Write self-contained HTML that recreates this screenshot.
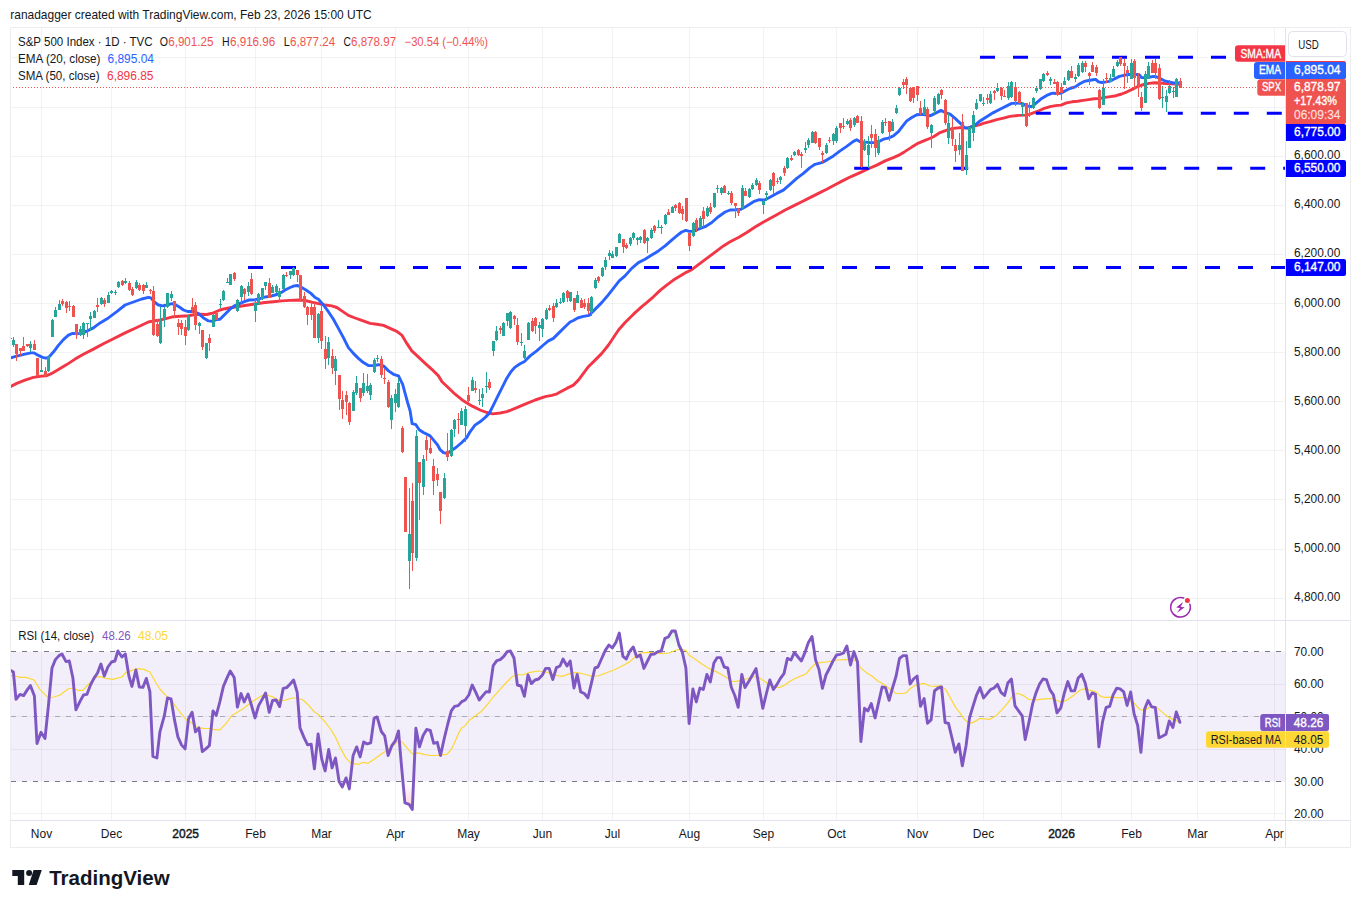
<!DOCTYPE html>
<html lang="en"><head><meta charset="utf-8"><title>S&amp;P 500 Index chart</title>
<style>html,body{margin:0;padding:0;background:#fff;}body{width:1361px;height:908px;overflow:hidden;font-family:"Liberation Sans",sans-serif;}svg{display:block;position:absolute;left:0;top:0;}text{font-family:"Liberation Sans",sans-serif;}</style></head><body>
<svg width="1361" height="908" viewBox="0 0 1361 908">
<rect x="0" y="0" width="1361" height="908" fill="#ffffff"/>
<rect x="11" y="651.6" width="1274.5" height="129.9" fill="#f2eefa"/>
<g stroke="rgba(42,46,57,0.06)" stroke-width="1" shape-rendering="crispEdges">
<line x1="41.5" y1="28" x2="41.5" y2="820"/>
<line x1="111.5" y1="28" x2="111.5" y2="820"/>
<line x1="185.5" y1="28" x2="185.5" y2="820"/>
<line x1="255.5" y1="28" x2="255.5" y2="820"/>
<line x1="321.5" y1="28" x2="321.5" y2="820"/>
<line x1="395.5" y1="28" x2="395.5" y2="820"/>
<line x1="468.5" y1="28" x2="468.5" y2="820"/>
<line x1="542.5" y1="28" x2="542.5" y2="820"/>
<line x1="612.5" y1="28" x2="612.5" y2="820"/>
<line x1="689.5" y1="28" x2="689.5" y2="820"/>
<line x1="763.5" y1="28" x2="763.5" y2="820"/>
<line x1="836.5" y1="28" x2="836.5" y2="820"/>
<line x1="917.5" y1="28" x2="917.5" y2="820"/>
<line x1="983.5" y1="28" x2="983.5" y2="820"/>
<line x1="1061.5" y1="28" x2="1061.5" y2="820"/>
<line x1="1131.5" y1="28" x2="1131.5" y2="820"/>
<line x1="1197.5" y1="28" x2="1197.5" y2="820"/>
<line x1="1274.5" y1="28" x2="1274.5" y2="820"/>
<line x1="11" y1="598.5" x2="1285" y2="598.5"/>
<line x1="11" y1="549.5" x2="1285" y2="549.5"/>
<line x1="11" y1="499.5" x2="1285" y2="499.5"/>
<line x1="11" y1="450.5" x2="1285" y2="450.5"/>
<line x1="11" y1="401.5" x2="1285" y2="401.5"/>
<line x1="11" y1="352.5" x2="1285" y2="352.5"/>
<line x1="11" y1="303.5" x2="1285" y2="303.5"/>
<line x1="11" y1="254.5" x2="1285" y2="254.5"/>
<line x1="11" y1="205.5" x2="1285" y2="205.5"/>
<line x1="11" y1="156.5" x2="1285" y2="156.5"/>
<line x1="11" y1="107.5" x2="1285" y2="107.5"/>
<line x1="11" y1="57.5" x2="1285" y2="57.5"/>
<line x1="11" y1="684.5" x2="1285" y2="684.5"/>
<line x1="11" y1="716.5" x2="1285" y2="716.5"/>
<line x1="11" y1="749.5" x2="1285" y2="749.5"/>
<line x1="11" y1="813.5" x2="1285" y2="813.5"/>
</g>
<defs><clipPath id="cm"><rect x="11" y="28" width="1274.5" height="592"/></clipPath><clipPath id="cr"><rect x="11" y="621" width="1274.5" height="199"/></clipPath></defs>
<g stroke="#787b86" stroke-width="1" stroke-dasharray="5 6" shape-rendering="crispEdges">
<line x1="11" y1="651.5" x2="1281" y2="651.5"/>
<line x1="11" y1="716.5" x2="1281" y2="716.5" stroke-opacity="0.55"/>
<line x1="11" y1="781.5" x2="1281" y2="781.5"/>
</g>
<g clip-path="url(#cm)">
<path d="M10.3,386.8 L16.7,383.4 L25.0,380.1 L33.4,377.4 L41.7,376.1 L46.7,375.8 L51.7,373.4 L58.4,369.6 L66.7,364.6 L75.1,359.1 L83.4,354.2 L93.4,349.1 L103.4,343.7 L113.4,338.7 L125.1,332.9 L136.8,327.5 L148.4,322.0 L155.1,320.7 L160.1,320.0 L166.8,318.4 L173.5,316.7 L180.1,316.2 L188.5,315.7 L195.1,314.5 L200.1,314.2 L206.8,314.5 L213.5,312.9 L220.0,310.0 L225.0,308.7 L231.7,307.5 L240.0,306.2 L248.4,305.0 L256.7,303.7 L265.0,302.5 L273.4,301.7 L281.7,300.9 L290.1,300.4 L298.4,300.0 L305.1,300.5 L311.7,302.2 L318.4,303.7 L325.1,305.0 L331.8,305.9 L336.8,307.5 L341.8,310.9 L348.4,315.4 L355.1,318.0 L361.8,320.4 L370.1,323.4 L376.8,324.2 L383.5,325.4 L390.1,328.4 L396.8,331.4 L401.8,335.1 L406.8,343.4 L411.8,350.9 L418.5,357.1 L425.2,363.4 L431.8,369.3 L438.5,375.9 L442.0,381.8 L446.8,386.3 L455.1,394.2 L463.4,400.8 L471.8,405.9 L480.1,410.0 L486.8,412.5 L492.6,413.9 L500.1,413.0 L506.8,411.7 L515.1,408.4 L525.1,404.2 L535.2,400.0 L545.2,396.7 L551.8,395.3 L557.0,393.8 L560.1,392.1 L566.8,388.4 L573.4,385.1 L578.4,380.1 L583.4,373.4 L588.4,366.7 L595.1,360.1 L601.8,353.4 L608.5,345.0 L613.5,337.5 L618.5,330.0 L625.1,322.5 L633.5,314.2 L641.8,306.7 L646.7,302.6 L653.4,296.8 L660.1,290.4 L666.7,285.1 L673.4,280.1 L680.1,275.9 L686.7,272.1 L691.7,269.7 L696.8,265.9 L703.4,260.9 L710.1,255.9 L716.8,250.9 L723.4,245.9 L730.1,241.7 L738.4,237.5 L746.8,232.5 L755.1,227.0 L761.8,223.0 L768.5,219.2 L776.8,214.7 L785.2,210.0 L793.5,205.9 L801.8,201.7 L810.0,197.6 L818.4,193.4 L826.7,189.3 L835.1,184.8 L843.4,180.4 L851.7,176.3 L860.1,172.6 L868.4,168.8 L876.8,165.1 L885.1,160.9 L893.4,157.6 L898.4,155.4 L905.1,151.4 L911.8,147.1 L918.4,143.1 L926.8,139.7 L933.5,136.7 L940.1,132.6 L946.8,130.1 L953.5,128.4 L960.1,127.6 L966.8,128.1 L980.0,124.6 L983.3,123.4 L990.0,121.7 L996.7,119.7 L1003.4,118.1 L1010.0,116.4 L1018.4,115.4 L1025.0,115.1 L1030.0,114.2 L1036.7,111.7 L1043.4,108.7 L1050.1,106.7 L1055.5,105.6 L1061.0,105.1 L1066.5,102.9 L1072.0,101.8 L1077.6,101.2 L1083.1,100.4 L1088.6,99.6 L1094.1,98.8 L1099.6,98.5 L1105.1,97.4 L1110.6,96.6 L1116.1,95.7 L1121.6,94.0 L1127.1,91.8 L1132.7,89.1 L1138.2,86.3 L1143.7,84.5 L1149.2,83.4 L1154.7,82.8 L1160.2,83.0 L1165.7,83.6 L1171.2,83.8 L1176.7,84.1 L1180.5,84.3" fill="none" stroke="#f23645" stroke-width="2.9" stroke-linejoin="round" stroke-linecap="round" />
<path d="M10.3,357.9 L16.7,356.2 L25.0,354.2 L30.9,352.9 L34.2,352.9 L38.4,355.4 L42.5,357.4 L45.9,358.2 L49.2,356.7 L53.4,352.1 L58.4,345.4 L63.4,339.6 L68.4,335.1 L72.6,333.4 L76.7,333.7 L81.7,333.4 L86.7,331.2 L93.4,327.9 L100.1,322.9 L108.4,317.9 L116.8,311.7 L125.1,305.0 L133.4,302.0 L141.8,299.0 L148.4,297.4 L150.9,297.9 L154.3,302.0 L158.4,305.0 L162.6,305.9 L166.8,305.0 L171.8,303.7 L175.1,304.5 L179.3,307.0 L183.5,310.0 L187.6,311.5 L193.5,311.5 L198.5,313.7 L203.5,317.9 L208.5,320.9 L212.7,321.2 L216.8,319.5 L220.0,319.2 L225.0,314.2 L230.0,309.2 L235.0,305.5 L240.0,303.4 L245.0,301.4 L249.2,300.0 L255.0,299.7 L260.0,298.7 L265.0,297.0 L270.0,296.4 L275.0,295.0 L280.0,293.4 L285.1,290.0 L290.1,287.5 L294.2,285.9 L297.6,285.5 L301.7,287.5 L305.9,290.0 L310.9,293.4 L315.1,297.5 L318.4,299.2 L323.4,305.0 L328.4,311.7 L333.4,319.2 L338.4,328.4 L343.4,337.6 L348.4,347.6 L353.4,353.4 L358.4,358.4 L363.4,362.6 L368.4,365.6 L373.4,365.6 L378.5,364.7 L383.5,365.9 L388.5,370.9 L393.5,374.3 L398.5,375.9 L401.8,382.6 L402.6,384.2 L405.1,393.3 L407.6,402.5 L410.1,410.9 L412.1,423.7 L415.9,424.7 L419.2,429.7 L423.4,432.5 L430.1,435.9 L434.2,440.9 L437.6,445.0 L440.1,449.7 L443.4,452.6 L446.8,453.4 L450.9,450.9 L455.9,447.5 L461.8,442.5 L466.8,437.5 L470.0,431.8 L475.0,425.1 L480.0,421.8 L485.0,417.6 L489.2,413.4 L493.4,405.1 L496.7,398.4 L501.7,388.4 L506.7,378.4 L510.9,371.7 L515.1,367.1 L520.1,363.7 L524.2,361.7 L530.1,355.9 L536.7,350.9 L543.4,345.0 L548.4,340.9 L553.4,338.4 L558.4,333.4 L565.1,326.7 L570.1,322.0 L573.4,320.5 L577.6,318.0 L583.4,316.4 L589.3,315.4 L591.7,312.6 L596.7,307.6 L601.7,302.6 L606.7,296.8 L613.4,288.4 L619.2,280.9 L625.0,275.9 L631.7,268.4 L638.4,262.6 L645.0,259.2 L651.7,255.1 L658.4,250.9 L665.1,245.9 L671.7,240.1 L676.7,235.9 L681.7,232.0 L685.9,230.4 L689.2,231.4 L693.4,231.4 L698.4,229.2 L705.1,226.7 L711.8,222.5 L718.4,216.7 L725.1,212.0 L730.1,210.0 L735.9,209.7 L741.0,209.2 L746.8,205.9 L753.5,201.7 L759.3,199.7 L764.3,200.0 L768.5,198.0 L776.7,193.4 L783.4,190.1 L790.0,184.3 L796.7,178.4 L803.4,173.4 L810.0,167.6 L815.0,164.3 L821.7,162.6 L826.7,160.1 L833.4,155.9 L840.1,150.9 L846.7,146.4 L853.4,141.4 L856.7,139.7 L860.1,141.7 L865.1,142.1 L870.1,142.6 L876.8,142.6 L883.4,139.2 L888.4,138.1 L893.4,135.9 L898.4,131.7 L903.4,125.1 L906.8,120.9 L911.8,117.5 L916.8,114.7 L921.8,114.2 L926.8,115.0 L930.1,115.9 L935.1,113.4 L941.0,110.4 L945.1,112.5 L950.1,114.2 L955.1,118.4 L960.1,123.1 L964.3,127.6 L968.5,128.1 L975.0,125.1 L980.0,120.9 L986.7,116.7 L993.4,112.6 L1000.0,109.2 L1006.7,105.9 L1011.7,103.4 L1016.7,103.1 L1021.7,103.4 L1026.7,105.9 L1031.7,106.7 L1036.7,102.6 L1041.7,98.4 L1046.7,95.4 L1051.7,93.4 L1053.3,93.3 L1056.6,93.5 L1061.0,93.3 L1065.4,90.7 L1069.8,88.5 L1075.3,86.9 L1079.8,83.8 L1084.2,81.4 L1088.6,80.5 L1093.0,79.7 L1095.7,79.4 L1098.5,81.9 L1101.8,82.5 L1106.2,81.9 L1110.6,81.1 L1115.0,78.6 L1119.4,76.4 L1123.8,75.3 L1128.3,74.5 L1132.7,74.5 L1137.1,74.5 L1139.3,74.8 L1141.5,77.5 L1145.9,77.8 L1150.3,77.0 L1153.6,76.4 L1156.9,77.0 L1160.2,78.6 L1164.6,80.8 L1169.0,81.9 L1173.4,83.0 L1177.8,83.0 L1180.5,83.5" fill="none" stroke="#2962ff" stroke-width="2.9" stroke-linejoin="round" stroke-linecap="round" />
<line x1="980" y1="57.3" x2="1285" y2="57.3" stroke="#0000ff" stroke-width="3" stroke-dasharray="15 18" stroke-dashoffset="0"/>
<line x1="1035.8" y1="113.2" x2="1285" y2="113.2" stroke="#0000ff" stroke-width="3" stroke-dasharray="15 18" stroke-dashoffset="0"/>
<line x1="854.2" y1="168.3" x2="1285" y2="168.3" stroke="#0000ff" stroke-width="3" stroke-dasharray="15 18" stroke-dashoffset="0"/>
<line x1="248" y1="267.5" x2="1285" y2="267.5" stroke="#0000ff" stroke-width="3" stroke-dasharray="15 18" stroke-dashoffset="0"/>
<rect x="13" y="337" width="1" height="10" fill="#26a69a"/><rect x="12" y="340" width="3" height="5" fill="#26a69a"/>
<rect x="16" y="344" width="1" height="17" fill="#ef5350"/><rect x="15" y="344" width="3" height="10" fill="#ef5350"/>
<rect x="20" y="348" width="1" height="8" fill="#ef5350"/><rect x="19" y="348" width="3" height="3" fill="#ef5350"/>
<rect x="23" y="337" width="1" height="14" fill="#ef5350"/><rect x="22" y="346" width="3" height="5" fill="#ef5350"/>
<rect x="27" y="344" width="1" height="3" fill="#ef5350"/><rect x="26" y="344" width="3" height="2" fill="#ef5350"/>
<rect x="30" y="341" width="1" height="11" fill="#26a69a"/><rect x="29" y="344" width="3" height="4" fill="#26a69a"/>
<rect x="34" y="340" width="1" height="10" fill="#ef5350"/><rect x="33" y="344" width="3" height="6" fill="#ef5350"/>
<rect x="37" y="358" width="1" height="19" fill="#ef5350"/><rect x="36" y="358" width="3" height="18" fill="#ef5350"/>
<rect x="41" y="359" width="1" height="13" fill="#26a69a"/><rect x="40" y="370" width="3" height="2" fill="#26a69a"/>
<rect x="45" y="367" width="1" height="10" fill="#ef5350"/><rect x="44" y="371" width="3" height="5" fill="#ef5350"/>
<rect x="48" y="356" width="1" height="16" fill="#26a69a"/><rect x="47" y="356" width="3" height="15" fill="#26a69a"/>
<rect x="52" y="319" width="1" height="18" fill="#26a69a"/><rect x="51" y="320" width="3" height="17" fill="#26a69a"/>
<rect x="55" y="307" width="1" height="10" fill="#26a69a"/><rect x="54" y="310" width="3" height="7" fill="#26a69a"/>
<rect x="59" y="300" width="1" height="10" fill="#26a69a"/><rect x="58" y="304" width="3" height="6" fill="#26a69a"/>
<rect x="62" y="299" width="1" height="7" fill="#ef5350"/><rect x="61" y="301" width="3" height="3" fill="#ef5350"/>
<rect x="66" y="301" width="1" height="12" fill="#ef5350"/><rect x="65" y="302" width="3" height="6" fill="#ef5350"/>
<rect x="69" y="301" width="1" height="10" fill="#ef5350"/><rect x="68" y="306" width="3" height="1" fill="#ef5350"/>
<rect x="73" y="305" width="1" height="12" fill="#ef5350"/><rect x="72" y="306" width="3" height="11" fill="#ef5350"/>
<rect x="76" y="324" width="1" height="15" fill="#ef5350"/><rect x="75" y="324" width="3" height="11" fill="#ef5350"/>
<rect x="80" y="326" width="1" height="10" fill="#26a69a"/><rect x="79" y="329" width="3" height="6" fill="#26a69a"/>
<rect x="83" y="322" width="1" height="17" fill="#26a69a"/><rect x="82" y="323" width="3" height="12" fill="#26a69a"/>
<rect x="87" y="323" width="1" height="14" fill="#26a69a"/><rect x="86" y="323" width="3" height="1" fill="#26a69a"/>
<rect x="90" y="312" width="1" height="19" fill="#26a69a"/><rect x="89" y="316" width="3" height="3" fill="#26a69a"/>
<rect x="94" y="310" width="1" height="8" fill="#26a69a"/><rect x="93" y="311" width="3" height="7" fill="#26a69a"/>
<rect x="97" y="298" width="1" height="14" fill="#ef5350"/><rect x="96" y="305" width="3" height="2" fill="#ef5350"/>
<rect x="101" y="297" width="1" height="8" fill="#26a69a"/><rect x="100" y="298" width="3" height="6" fill="#26a69a"/>
<rect x="104" y="298" width="1" height="9" fill="#ef5350"/><rect x="103" y="300" width="3" height="4" fill="#ef5350"/>
<rect x="108" y="292" width="1" height="11" fill="#26a69a"/><rect x="107" y="295" width="3" height="8" fill="#26a69a"/>
<rect x="111" y="290" width="1" height="4" fill="#26a69a"/><rect x="110" y="291" width="3" height="2" fill="#26a69a"/>
<rect x="115" y="290" width="1" height="5" fill="#26a69a"/><rect x="114" y="292" width="3" height="1" fill="#26a69a"/>
<rect x="118" y="281" width="1" height="7" fill="#26a69a"/><rect x="117" y="282" width="3" height="5" fill="#26a69a"/>
<rect x="122" y="280" width="1" height="6" fill="#ef5350"/><rect x="121" y="281" width="3" height="4" fill="#ef5350"/>
<rect x="125" y="278" width="1" height="6" fill="#26a69a"/><rect x="124" y="281" width="3" height="2" fill="#26a69a"/>
<rect x="129" y="281" width="1" height="10" fill="#ef5350"/><rect x="128" y="283" width="3" height="7" fill="#ef5350"/>
<rect x="132" y="287" width="1" height="9" fill="#ef5350"/><rect x="131" y="289" width="3" height="6" fill="#ef5350"/>
<rect x="136" y="280" width="1" height="9" fill="#26a69a"/><rect x="135" y="282" width="3" height="6" fill="#26a69a"/>
<rect x="139" y="283" width="1" height="8" fill="#ef5350"/><rect x="138" y="285" width="3" height="5" fill="#ef5350"/>
<rect x="143" y="284" width="1" height="10" fill="#ef5350"/><rect x="142" y="285" width="3" height="6" fill="#ef5350"/>
<rect x="146" y="282" width="1" height="6" fill="#26a69a"/><rect x="145" y="285" width="3" height="3" fill="#26a69a"/>
<rect x="150" y="289" width="1" height="5" fill="#ef5350"/><rect x="149" y="290" width="3" height="1" fill="#ef5350"/>
<rect x="153" y="286" width="1" height="50" fill="#ef5350"/><rect x="152" y="291" width="3" height="44" fill="#ef5350"/>
<rect x="157" y="319" width="1" height="18" fill="#ef5350"/><rect x="156" y="324" width="3" height="12" fill="#ef5350"/>
<rect x="160" y="307" width="1" height="37" fill="#26a69a"/><rect x="159" y="320" width="3" height="23" fill="#26a69a"/>
<rect x="164" y="307" width="1" height="20" fill="#26a69a"/><rect x="163" y="309" width="3" height="10" fill="#26a69a"/>
<rect x="167" y="293" width="1" height="15" fill="#26a69a"/><rect x="166" y="293" width="3" height="14" fill="#26a69a"/>
<rect x="171" y="291" width="1" height="10" fill="#26a69a"/><rect x="170" y="294" width="3" height="4" fill="#26a69a"/>
<rect x="174" y="301" width="1" height="17" fill="#ef5350"/><rect x="173" y="301" width="3" height="10" fill="#ef5350"/>
<rect x="178" y="319" width="1" height="16" fill="#ef5350"/><rect x="177" y="323" width="3" height="4" fill="#ef5350"/>
<rect x="181" y="320" width="1" height="15" fill="#ef5350"/><rect x="180" y="323" width="3" height="6" fill="#ef5350"/>
<rect x="185" y="320" width="1" height="25" fill="#ef5350"/><rect x="184" y="327" width="3" height="9" fill="#ef5350"/>
<rect x="188" y="315" width="1" height="16" fill="#26a69a"/><rect x="187" y="316" width="3" height="14" fill="#26a69a"/>
<rect x="192" y="298" width="1" height="15" fill="#ef5350"/><rect x="191" y="307" width="3" height="3" fill="#ef5350"/>
<rect x="195" y="302" width="1" height="28" fill="#ef5350"/><rect x="194" y="305" width="3" height="20" fill="#ef5350"/>
<rect x="199" y="322" width="1" height="12" fill="#26a69a"/><rect x="198" y="323" width="3" height="3" fill="#26a69a"/>
<rect x="202" y="330" width="1" height="20" fill="#ef5350"/><rect x="201" y="330" width="3" height="17" fill="#ef5350"/>
<rect x="206" y="343" width="1" height="16" fill="#26a69a"/><rect x="205" y="343" width="3" height="15" fill="#26a69a"/>
<rect x="209" y="334" width="1" height="17" fill="#ef5350"/><rect x="208" y="338" width="3" height="5" fill="#ef5350"/>
<rect x="213" y="313" width="1" height="14" fill="#26a69a"/><rect x="212" y="315" width="3" height="12" fill="#26a69a"/>
<rect x="216" y="312" width="1" height="8" fill="#ef5350"/><rect x="215" y="313" width="3" height="7" fill="#ef5350"/>
<rect x="220" y="299" width="1" height="9" fill="#26a69a"/><rect x="219" y="304" width="3" height="1" fill="#26a69a"/>
<rect x="223" y="290" width="1" height="11" fill="#26a69a"/><rect x="222" y="291" width="3" height="9" fill="#26a69a"/>
<rect x="227" y="278" width="1" height="5" fill="#26a69a"/><rect x="226" y="282" width="3" height="1" fill="#26a69a"/>
<rect x="230" y="274" width="1" height="11" fill="#26a69a"/><rect x="229" y="274" width="3" height="11" fill="#26a69a"/>
<rect x="234" y="272" width="1" height="9" fill="#ef5350"/><rect x="233" y="273" width="3" height="6" fill="#ef5350"/>
<rect x="237" y="299" width="1" height="13" fill="#26a69a"/><rect x="236" y="300" width="3" height="11" fill="#26a69a"/>
<rect x="241" y="285" width="1" height="18" fill="#26a69a"/><rect x="240" y="286" width="3" height="11" fill="#26a69a"/>
<rect x="244" y="288" width="1" height="12" fill="#ef5350"/><rect x="243" y="289" width="3" height="5" fill="#ef5350"/>
<rect x="248" y="282" width="1" height="14" fill="#26a69a"/><rect x="247" y="286" width="3" height="6" fill="#26a69a"/>
<rect x="251" y="273" width="1" height="22" fill="#ef5350"/><rect x="250" y="279" width="3" height="15" fill="#ef5350"/>
<rect x="255" y="299" width="1" height="23" fill="#26a69a"/><rect x="254" y="303" width="3" height="8" fill="#26a69a"/>
<rect x="258" y="293" width="1" height="12" fill="#26a69a"/><rect x="257" y="294" width="3" height="10" fill="#26a69a"/>
<rect x="262" y="288" width="1" height="12" fill="#26a69a"/><rect x="261" y="288" width="3" height="11" fill="#26a69a"/>
<rect x="265" y="282" width="1" height="8" fill="#26a69a"/><rect x="264" y="282" width="3" height="4" fill="#26a69a"/>
<rect x="269" y="278" width="1" height="20" fill="#ef5350"/><rect x="268" y="283" width="3" height="15" fill="#ef5350"/>
<rect x="272" y="285" width="1" height="8" fill="#26a69a"/><rect x="271" y="287" width="3" height="6" fill="#26a69a"/>
<rect x="276" y="284" width="1" height="9" fill="#26a69a"/><rect x="275" y="286" width="3" height="6" fill="#26a69a"/>
<rect x="279" y="288" width="1" height="14" fill="#26a69a"/><rect x="278" y="291" width="3" height="6" fill="#26a69a"/>
<rect x="283" y="274" width="1" height="16" fill="#26a69a"/><rect x="282" y="275" width="3" height="14" fill="#26a69a"/>
<rect x="286" y="272" width="1" height="5" fill="#ef5350"/><rect x="285" y="275" width="3" height="1" fill="#ef5350"/>
<rect x="290" y="271" width="1" height="8" fill="#26a69a"/><rect x="289" y="271" width="3" height="4" fill="#26a69a"/>
<rect x="293" y="267" width="1" height="9" fill="#26a69a"/><rect x="292" y="268" width="3" height="7" fill="#26a69a"/>
<rect x="297" y="270" width="1" height="12" fill="#ef5350"/><rect x="296" y="270" width="3" height="5" fill="#ef5350"/>
<rect x="300" y="275" width="1" height="26" fill="#ef5350"/><rect x="299" y="275" width="3" height="25" fill="#ef5350"/>
<rect x="304" y="292" width="1" height="16" fill="#ef5350"/><rect x="303" y="296" width="3" height="11" fill="#ef5350"/>
<rect x="307" y="306" width="1" height="19" fill="#ef5350"/><rect x="306" y="307" width="3" height="8" fill="#ef5350"/>
<rect x="311" y="302" width="1" height="18" fill="#ef5350"/><rect x="310" y="307" width="3" height="8" fill="#ef5350"/>
<rect x="314" y="303" width="1" height="35" fill="#ef5350"/><rect x="313" y="307" width="3" height="31" fill="#ef5350"/>
<rect x="318" y="313" width="1" height="30" fill="#26a69a"/><rect x="317" y="314" width="3" height="24" fill="#26a69a"/>
<rect x="321" y="306" width="1" height="43" fill="#ef5350"/><rect x="320" y="311" width="3" height="30" fill="#ef5350"/>
<rect x="325" y="336" width="1" height="33" fill="#ef5350"/><rect x="324" y="349" width="3" height="10" fill="#ef5350"/>
<rect x="328" y="337" width="1" height="28" fill="#26a69a"/><rect x="327" y="342" width="3" height="16" fill="#26a69a"/>
<rect x="332" y="349" width="1" height="25" fill="#ef5350"/><rect x="331" y="356" width="3" height="12" fill="#ef5350"/>
<rect x="335" y="356" width="1" height="29" fill="#26a69a"/><rect x="334" y="359" width="3" height="12" fill="#26a69a"/>
<rect x="339" y="375" width="1" height="35" fill="#ef5350"/><rect x="338" y="375" width="3" height="24" fill="#ef5350"/>
<rect x="342" y="391" width="1" height="28" fill="#ef5350"/><rect x="341" y="400" width="3" height="9" fill="#ef5350"/>
<rect x="346" y="391" width="1" height="24" fill="#ef5350"/><rect x="345" y="395" width="3" height="7" fill="#ef5350"/>
<rect x="349" y="402" width="1" height="23" fill="#ef5350"/><rect x="348" y="403" width="3" height="19" fill="#ef5350"/>
<rect x="353" y="390" width="1" height="21" fill="#26a69a"/><rect x="352" y="392" width="3" height="19" fill="#26a69a"/>
<rect x="356" y="376" width="1" height="19" fill="#26a69a"/><rect x="355" y="383" width="3" height="10" fill="#26a69a"/>
<rect x="360" y="388" width="1" height="14" fill="#ef5350"/><rect x="359" y="388" width="3" height="10" fill="#ef5350"/>
<rect x="363" y="373" width="1" height="23" fill="#26a69a"/><rect x="362" y="383" width="3" height="10" fill="#26a69a"/>
<rect x="367" y="374" width="1" height="19" fill="#26a69a"/><rect x="366" y="386" width="3" height="5" fill="#26a69a"/>
<rect x="370" y="383" width="1" height="17" fill="#26a69a"/><rect x="369" y="385" width="3" height="10" fill="#26a69a"/>
<rect x="374" y="358" width="1" height="15" fill="#26a69a"/><rect x="373" y="360" width="3" height="12" fill="#26a69a"/>
<rect x="377" y="355" width="1" height="7" fill="#26a69a"/><rect x="376" y="358" width="3" height="1" fill="#26a69a"/>
<rect x="381" y="356" width="1" height="22" fill="#ef5350"/><rect x="380" y="359" width="3" height="16" fill="#ef5350"/>
<rect x="384" y="369" width="1" height="15" fill="#ef5350"/><rect x="383" y="378" width="3" height="1" fill="#ef5350"/>
<rect x="388" y="380" width="1" height="28" fill="#ef5350"/><rect x="387" y="382" width="3" height="25" fill="#ef5350"/>
<rect x="391" y="395" width="1" height="34" fill="#26a69a"/><rect x="390" y="398" width="3" height="22" fill="#26a69a"/>
<rect x="395" y="389" width="1" height="23" fill="#26a69a"/><rect x="394" y="394" width="3" height="9" fill="#26a69a"/>
<rect x="398" y="378" width="1" height="30" fill="#26a69a"/><rect x="397" y="383" width="3" height="24" fill="#26a69a"/>
<rect x="402" y="426" width="1" height="27" fill="#ef5350"/><rect x="401" y="428" width="3" height="24" fill="#ef5350"/>
<rect x="405" y="477" width="1" height="55" fill="#ef5350"/><rect x="404" y="477" width="3" height="55" fill="#ef5350"/>
<rect x="409" y="488" width="1" height="101" fill="#26a69a"/><rect x="408" y="534" width="3" height="27" fill="#26a69a"/>
<rect x="412" y="483" width="1" height="88" fill="#ef5350"/><rect x="411" y="501" width="3" height="52" fill="#ef5350"/>
<rect x="416" y="430" width="1" height="131" fill="#26a69a"/><rect x="415" y="436" width="3" height="122" fill="#26a69a"/>
<rect x="419" y="462" width="1" height="58" fill="#ef5350"/><rect x="418" y="462" width="3" height="21" fill="#ef5350"/>
<rect x="423" y="455" width="1" height="40" fill="#26a69a"/><rect x="422" y="459" width="3" height="28" fill="#26a69a"/>
<rect x="426" y="436" width="1" height="25" fill="#ef5350"/><rect x="425" y="440" width="3" height="10" fill="#ef5350"/>
<rect x="430" y="438" width="1" height="16" fill="#ef5350"/><rect x="429" y="448" width="3" height="5" fill="#ef5350"/>
<rect x="433" y="459" width="1" height="36" fill="#ef5350"/><rect x="432" y="466" width="3" height="15" fill="#ef5350"/>
<rect x="437" y="468" width="1" height="18" fill="#ef5350"/><rect x="436" y="474" width="3" height="6" fill="#ef5350"/>
<rect x="440" y="492" width="1" height="32" fill="#ef5350"/><rect x="439" y="492" width="3" height="19" fill="#ef5350"/>
<rect x="444" y="473" width="1" height="26" fill="#26a69a"/><rect x="443" y="478" width="3" height="20" fill="#26a69a"/>
<rect x="447" y="433" width="1" height="28" fill="#ef5350"/><rect x="446" y="451" width="3" height="6" fill="#ef5350"/>
<rect x="451" y="429" width="1" height="28" fill="#26a69a"/><rect x="450" y="430" width="3" height="26" fill="#26a69a"/>
<rect x="454" y="419" width="1" height="18" fill="#26a69a"/><rect x="453" y="420" width="3" height="9" fill="#26a69a"/>
<rect x="458" y="413" width="1" height="21" fill="#ef5350"/><rect x="457" y="419" width="3" height="1" fill="#ef5350"/>
<rect x="461" y="408" width="1" height="17" fill="#26a69a"/><rect x="460" y="411" width="3" height="14" fill="#26a69a"/>
<rect x="465" y="406" width="1" height="36" fill="#26a69a"/><rect x="464" y="409" width="3" height="17" fill="#26a69a"/>
<rect x="468" y="387" width="1" height="15" fill="#ef5350"/><rect x="467" y="395" width="3" height="6" fill="#ef5350"/>
<rect x="472" y="377" width="1" height="14" fill="#26a69a"/><rect x="471" y="380" width="3" height="11" fill="#26a69a"/>
<rect x="475" y="381" width="1" height="12" fill="#ef5350"/><rect x="474" y="388" width="3" height="2" fill="#ef5350"/>
<rect x="479" y="389" width="1" height="16" fill="#26a69a"/><rect x="478" y="400" width="3" height="1" fill="#26a69a"/>
<rect x="482" y="388" width="1" height="19" fill="#26a69a"/><rect x="481" y="394" width="3" height="4" fill="#26a69a"/>
<rect x="486" y="372" width="1" height="21" fill="#26a69a"/><rect x="485" y="386" width="3" height="1" fill="#26a69a"/>
<rect x="489" y="379" width="1" height="11" fill="#ef5350"/><rect x="488" y="382" width="3" height="6" fill="#ef5350"/>
<rect x="493" y="341" width="1" height="15" fill="#26a69a"/><rect x="492" y="341" width="3" height="10" fill="#26a69a"/>
<rect x="496" y="326" width="1" height="15" fill="#26a69a"/><rect x="495" y="331" width="3" height="9" fill="#26a69a"/>
<rect x="500" y="326" width="1" height="8" fill="#ef5350"/><rect x="499" y="328" width="3" height="2" fill="#ef5350"/>
<rect x="503" y="322" width="1" height="14" fill="#26a69a"/><rect x="502" y="323" width="3" height="13" fill="#26a69a"/>
<rect x="507" y="313" width="1" height="13" fill="#26a69a"/><rect x="506" y="313" width="3" height="8" fill="#26a69a"/>
<rect x="510" y="311" width="1" height="18" fill="#26a69a"/><rect x="509" y="312" width="3" height="16" fill="#26a69a"/>
<rect x="514" y="315" width="1" height="10" fill="#ef5350"/><rect x="513" y="316" width="3" height="3" fill="#ef5350"/>
<rect x="517" y="318" width="1" height="27" fill="#ef5350"/><rect x="516" y="325" width="3" height="17" fill="#ef5350"/>
<rect x="521" y="333" width="1" height="13" fill="#26a69a"/><rect x="520" y="342" width="3" height="1" fill="#26a69a"/>
<rect x="524" y="345" width="1" height="14" fill="#26a69a"/><rect x="523" y="351" width="3" height="7" fill="#26a69a"/>
<rect x="528" y="322" width="1" height="18" fill="#26a69a"/><rect x="527" y="323" width="3" height="17" fill="#26a69a"/>
<rect x="532" y="318" width="1" height="14" fill="#ef5350"/><rect x="531" y="321" width="3" height="10" fill="#ef5350"/>
<rect x="535" y="317" width="1" height="17" fill="#ef5350"/><rect x="534" y="318" width="3" height="8" fill="#ef5350"/>
<rect x="539" y="322" width="1" height="19" fill="#26a69a"/><rect x="538" y="325" width="3" height="3" fill="#26a69a"/>
<rect x="542" y="318" width="1" height="19" fill="#26a69a"/><rect x="541" y="319" width="3" height="10" fill="#26a69a"/>
<rect x="546" y="308" width="1" height="12" fill="#26a69a"/><rect x="545" y="310" width="3" height="9" fill="#26a69a"/>
<rect x="549" y="305" width="1" height="6" fill="#ef5350"/><rect x="548" y="308" width="3" height="2" fill="#ef5350"/>
<rect x="553" y="303" width="1" height="19" fill="#ef5350"/><rect x="552" y="306" width="3" height="12" fill="#ef5350"/>
<rect x="556" y="299" width="1" height="9" fill="#26a69a"/><rect x="555" y="303" width="3" height="4" fill="#26a69a"/>
<rect x="560" y="298" width="1" height="6" fill="#26a69a"/><rect x="559" y="302" width="3" height="1" fill="#26a69a"/>
<rect x="563" y="292" width="1" height="11" fill="#26a69a"/><rect x="562" y="293" width="3" height="9" fill="#26a69a"/>
<rect x="567" y="290" width="1" height="12" fill="#ef5350"/><rect x="566" y="291" width="3" height="7" fill="#ef5350"/>
<rect x="570" y="292" width="1" height="10" fill="#26a69a"/><rect x="569" y="292" width="3" height="9" fill="#26a69a"/>
<rect x="574" y="298" width="1" height="14" fill="#ef5350"/><rect x="573" y="298" width="3" height="12" fill="#ef5350"/>
<rect x="577" y="291" width="1" height="12" fill="#26a69a"/><rect x="576" y="295" width="3" height="8" fill="#26a69a"/>
<rect x="581" y="298" width="1" height="10" fill="#ef5350"/><rect x="580" y="300" width="3" height="8" fill="#ef5350"/>
<rect x="584" y="299" width="1" height="10" fill="#ef5350"/><rect x="583" y="303" width="3" height="4" fill="#ef5350"/>
<rect x="588" y="298" width="1" height="16" fill="#ef5350"/><rect x="587" y="303" width="3" height="8" fill="#ef5350"/>
<rect x="591" y="296" width="1" height="20" fill="#26a69a"/><rect x="590" y="297" width="3" height="15" fill="#26a69a"/>
<rect x="595" y="278" width="1" height="11" fill="#26a69a"/><rect x="594" y="280" width="3" height="8" fill="#26a69a"/>
<rect x="598" y="276" width="1" height="7" fill="#ef5350"/><rect x="597" y="277" width="3" height="4" fill="#ef5350"/>
<rect x="602" y="267" width="1" height="10" fill="#26a69a"/><rect x="601" y="268" width="3" height="8" fill="#26a69a"/>
<rect x="605" y="257" width="1" height="13" fill="#26a69a"/><rect x="604" y="260" width="3" height="7" fill="#26a69a"/>
<rect x="609" y="250" width="1" height="10" fill="#26a69a"/><rect x="608" y="253" width="3" height="3" fill="#26a69a"/>
<rect x="612" y="251" width="1" height="7" fill="#26a69a"/><rect x="611" y="254" width="3" height="4" fill="#26a69a"/>
<rect x="616" y="247" width="1" height="10" fill="#26a69a"/><rect x="615" y="247" width="3" height="9" fill="#26a69a"/>
<rect x="619" y="233" width="1" height="10" fill="#26a69a"/><rect x="618" y="234" width="3" height="9" fill="#26a69a"/>
<rect x="623" y="239" width="1" height="14" fill="#ef5350"/><rect x="622" y="239" width="3" height="8" fill="#ef5350"/>
<rect x="626" y="243" width="1" height="6" fill="#ef5350"/><rect x="625" y="245" width="3" height="3" fill="#ef5350"/>
<rect x="630" y="237" width="1" height="9" fill="#26a69a"/><rect x="629" y="238" width="3" height="6" fill="#26a69a"/>
<rect x="633" y="232" width="1" height="8" fill="#26a69a"/><rect x="632" y="233" width="3" height="5" fill="#26a69a"/>
<rect x="637" y="237" width="1" height="8" fill="#26a69a"/><rect x="636" y="238" width="3" height="2" fill="#26a69a"/>
<rect x="640" y="236" width="1" height="7" fill="#26a69a"/><rect x="639" y="237" width="3" height="3" fill="#26a69a"/>
<rect x="644" y="229" width="1" height="15" fill="#ef5350"/><rect x="643" y="230" width="3" height="13" fill="#ef5350"/>
<rect x="647" y="237" width="1" height="16" fill="#26a69a"/><rect x="646" y="238" width="3" height="3" fill="#26a69a"/>
<rect x="651" y="228" width="1" height="11" fill="#26a69a"/><rect x="650" y="230" width="3" height="8" fill="#26a69a"/>
<rect x="654" y="225" width="1" height="8" fill="#ef5350"/><rect x="653" y="226" width="3" height="5" fill="#ef5350"/>
<rect x="658" y="220" width="1" height="8" fill="#26a69a"/><rect x="657" y="227" width="3" height="1" fill="#26a69a"/>
<rect x="661" y="225" width="1" height="9" fill="#26a69a"/><rect x="660" y="227" width="3" height="1" fill="#26a69a"/>
<rect x="665" y="214" width="1" height="11" fill="#26a69a"/><rect x="664" y="215" width="3" height="9" fill="#26a69a"/>
<rect x="668" y="209" width="1" height="6" fill="#ef5350"/><rect x="667" y="212" width="3" height="3" fill="#ef5350"/>
<rect x="672" y="206" width="1" height="7" fill="#26a69a"/><rect x="671" y="207" width="3" height="6" fill="#26a69a"/>
<rect x="675" y="204" width="1" height="7" fill="#ef5350"/><rect x="674" y="205" width="3" height="3" fill="#ef5350"/>
<rect x="679" y="202" width="1" height="12" fill="#ef5350"/><rect x="678" y="203" width="3" height="10" fill="#ef5350"/>
<rect x="682" y="206" width="1" height="14" fill="#ef5350"/><rect x="681" y="209" width="3" height="5" fill="#ef5350"/>
<rect x="686" y="198" width="1" height="24" fill="#ef5350"/><rect x="685" y="198" width="3" height="23" fill="#ef5350"/>
<rect x="689" y="232" width="1" height="19" fill="#ef5350"/><rect x="688" y="233" width="3" height="13" fill="#ef5350"/>
<rect x="693" y="222" width="1" height="15" fill="#26a69a"/><rect x="692" y="223" width="3" height="13" fill="#26a69a"/>
<rect x="696" y="218" width="1" height="14" fill="#ef5350"/><rect x="695" y="220" width="3" height="9" fill="#ef5350"/>
<rect x="700" y="216" width="1" height="12" fill="#26a69a"/><rect x="699" y="218" width="3" height="10" fill="#26a69a"/>
<rect x="703" y="207" width="1" height="20" fill="#ef5350"/><rect x="702" y="211" width="3" height="8" fill="#ef5350"/>
<rect x="707" y="206" width="1" height="11" fill="#26a69a"/><rect x="706" y="208" width="3" height="8" fill="#26a69a"/>
<rect x="710" y="203" width="1" height="11" fill="#ef5350"/><rect x="709" y="207" width="3" height="5" fill="#ef5350"/>
<rect x="714" y="193" width="1" height="15" fill="#26a69a"/><rect x="713" y="193" width="3" height="14" fill="#26a69a"/>
<rect x="717" y="185" width="1" height="8" fill="#26a69a"/><rect x="716" y="188" width="3" height="1" fill="#26a69a"/>
<rect x="721" y="187" width="1" height="8" fill="#26a69a"/><rect x="720" y="188" width="3" height="5" fill="#26a69a"/>
<rect x="724" y="185" width="1" height="8" fill="#ef5350"/><rect x="723" y="186" width="3" height="7" fill="#ef5350"/>
<rect x="728" y="191" width="1" height="4" fill="#26a69a"/><rect x="727" y="193" width="3" height="1" fill="#26a69a"/>
<rect x="731" y="191" width="1" height="14" fill="#ef5350"/><rect x="730" y="193" width="3" height="10" fill="#ef5350"/>
<rect x="735" y="203" width="1" height="15" fill="#ef5350"/><rect x="734" y="203" width="3" height="3" fill="#ef5350"/>
<rect x="738" y="208" width="1" height="8" fill="#ef5350"/><rect x="737" y="209" width="3" height="4" fill="#ef5350"/>
<rect x="742" y="185" width="1" height="24" fill="#26a69a"/><rect x="741" y="188" width="3" height="20" fill="#26a69a"/>
<rect x="745" y="188" width="1" height="8" fill="#ef5350"/><rect x="744" y="191" width="3" height="5" fill="#ef5350"/>
<rect x="749" y="188" width="1" height="10" fill="#26a69a"/><rect x="748" y="189" width="3" height="8" fill="#26a69a"/>
<rect x="752" y="183" width="1" height="7" fill="#26a69a"/><rect x="751" y="185" width="3" height="4" fill="#26a69a"/>
<rect x="756" y="178" width="1" height="8" fill="#26a69a"/><rect x="755" y="180" width="3" height="5" fill="#26a69a"/>
<rect x="759" y="181" width="1" height="13" fill="#ef5350"/><rect x="758" y="183" width="3" height="7" fill="#ef5350"/>
<rect x="763" y="200" width="1" height="14" fill="#26a69a"/><rect x="762" y="201" width="3" height="4" fill="#26a69a"/>
<rect x="766" y="191" width="1" height="10" fill="#26a69a"/><rect x="765" y="193" width="3" height="2" fill="#26a69a"/>
<rect x="770" y="179" width="1" height="12" fill="#26a69a"/><rect x="769" y="180" width="3" height="10" fill="#26a69a"/>
<rect x="773" y="172" width="1" height="22" fill="#ef5350"/><rect x="772" y="173" width="3" height="13" fill="#ef5350"/>
<rect x="777" y="178" width="1" height="6" fill="#ef5350"/><rect x="776" y="181" width="3" height="1" fill="#ef5350"/>
<rect x="780" y="176" width="1" height="8" fill="#26a69a"/><rect x="779" y="177" width="3" height="3" fill="#26a69a"/>
<rect x="784" y="166" width="1" height="10" fill="#ef5350"/><rect x="783" y="168" width="3" height="5" fill="#ef5350"/>
<rect x="787" y="157" width="1" height="12" fill="#26a69a"/><rect x="786" y="158" width="3" height="10" fill="#26a69a"/>
<rect x="791" y="155" width="1" height="6" fill="#ef5350"/><rect x="790" y="158" width="3" height="2" fill="#ef5350"/>
<rect x="794" y="151" width="1" height="5" fill="#26a69a"/><rect x="793" y="152" width="3" height="3" fill="#26a69a"/>
<rect x="798" y="149" width="1" height="7" fill="#ef5350"/><rect x="797" y="150" width="3" height="5" fill="#ef5350"/>
<rect x="801" y="152" width="1" height="16" fill="#ef5350"/><rect x="800" y="154" width="3" height="2" fill="#ef5350"/>
<rect x="805" y="142" width="1" height="11" fill="#26a69a"/><rect x="804" y="148" width="3" height="2" fill="#26a69a"/>
<rect x="808" y="138" width="1" height="10" fill="#26a69a"/><rect x="807" y="140" width="3" height="5" fill="#26a69a"/>
<rect x="812" y="131" width="1" height="12" fill="#26a69a"/><rect x="811" y="132" width="3" height="11" fill="#26a69a"/>
<rect x="815" y="131" width="1" height="13" fill="#ef5350"/><rect x="814" y="132" width="3" height="11" fill="#ef5350"/>
<rect x="819" y="138" width="1" height="12" fill="#ef5350"/><rect x="818" y="138" width="3" height="9" fill="#ef5350"/>
<rect x="822" y="151" width="1" height="12" fill="#ef5350"/><rect x="821" y="153" width="3" height="2" fill="#ef5350"/>
<rect x="826" y="143" width="1" height="11" fill="#26a69a"/><rect x="825" y="145" width="3" height="8" fill="#26a69a"/>
<rect x="829" y="137" width="1" height="6" fill="#ef5350"/><rect x="828" y="140" width="3" height="1" fill="#ef5350"/>
<rect x="833" y="133" width="1" height="12" fill="#26a69a"/><rect x="832" y="134" width="3" height="7" fill="#26a69a"/>
<rect x="836" y="126" width="1" height="17" fill="#26a69a"/><rect x="835" y="128" width="3" height="13" fill="#26a69a"/>
<rect x="840" y="123" width="1" height="10" fill="#ef5350"/><rect x="839" y="123" width="3" height="5" fill="#ef5350"/>
<rect x="843" y="118" width="1" height="11" fill="#ef5350"/><rect x="842" y="126" width="3" height="1" fill="#ef5350"/>
<rect x="847" y="119" width="1" height="6" fill="#26a69a"/><rect x="846" y="121" width="3" height="3" fill="#26a69a"/>
<rect x="850" y="118" width="1" height="13" fill="#ef5350"/><rect x="849" y="120" width="3" height="8" fill="#ef5350"/>
<rect x="854" y="117" width="1" height="10" fill="#26a69a"/><rect x="853" y="118" width="3" height="7" fill="#26a69a"/>
<rect x="857" y="115" width="1" height="8" fill="#ef5350"/><rect x="856" y="116" width="3" height="7" fill="#ef5350"/>
<rect x="861" y="116" width="1" height="52" fill="#ef5350"/><rect x="860" y="121" width="3" height="46" fill="#ef5350"/>
<rect x="864" y="139" width="1" height="12" fill="#26a69a"/><rect x="863" y="141" width="3" height="9" fill="#26a69a"/>
<rect x="868" y="136" width="1" height="32" fill="#26a69a"/><rect x="867" y="145" width="3" height="10" fill="#26a69a"/>
<rect x="871" y="125" width="1" height="23" fill="#ef5350"/><rect x="870" y="134" width="3" height="4" fill="#ef5350"/>
<rect x="875" y="129" width="1" height="28" fill="#ef5350"/><rect x="874" y="134" width="3" height="14" fill="#ef5350"/>
<rect x="878" y="136" width="1" height="19" fill="#26a69a"/><rect x="877" y="140" width="3" height="13" fill="#26a69a"/>
<rect x="882" y="120" width="1" height="14" fill="#26a69a"/><rect x="881" y="122" width="3" height="11" fill="#26a69a"/>
<rect x="885" y="118" width="1" height="8" fill="#ef5350"/><rect x="884" y="122" width="3" height="1" fill="#ef5350"/>
<rect x="889" y="121" width="1" height="20" fill="#ef5350"/><rect x="888" y="121" width="3" height="11" fill="#ef5350"/>
<rect x="892" y="119" width="1" height="12" fill="#26a69a"/><rect x="891" y="122" width="3" height="9" fill="#26a69a"/>
<rect x="896" y="105" width="1" height="9" fill="#26a69a"/><rect x="895" y="108" width="3" height="5" fill="#26a69a"/>
<rect x="899" y="87" width="1" height="9" fill="#26a69a"/><rect x="898" y="88" width="3" height="7" fill="#26a69a"/>
<rect x="903" y="79" width="1" height="10" fill="#ef5350"/><rect x="902" y="82" width="3" height="3" fill="#ef5350"/>
<rect x="906" y="77" width="1" height="17" fill="#ef5350"/><rect x="905" y="79" width="3" height="6" fill="#ef5350"/>
<rect x="910" y="87" width="1" height="15" fill="#ef5350"/><rect x="909" y="88" width="3" height="13" fill="#ef5350"/>
<rect x="913" y="87" width="1" height="16" fill="#ef5350"/><rect x="912" y="87" width="3" height="11" fill="#ef5350"/>
<rect x="917" y="86" width="1" height="15" fill="#ef5350"/><rect x="916" y="86" width="3" height="9" fill="#ef5350"/>
<rect x="920" y="101" width="1" height="14" fill="#ef5350"/><rect x="919" y="108" width="3" height="6" fill="#ef5350"/>
<rect x="924" y="99" width="1" height="16" fill="#26a69a"/><rect x="923" y="107" width="3" height="8" fill="#26a69a"/>
<rect x="927" y="107" width="1" height="22" fill="#ef5350"/><rect x="926" y="109" width="3" height="18" fill="#ef5350"/>
<rect x="931" y="124" width="1" height="24" fill="#26a69a"/><rect x="930" y="125" width="3" height="8" fill="#26a69a"/>
<rect x="934" y="96" width="1" height="18" fill="#26a69a"/><rect x="933" y="98" width="3" height="13" fill="#26a69a"/>
<rect x="938" y="93" width="1" height="12" fill="#26a69a"/><rect x="937" y="94" width="3" height="10" fill="#26a69a"/>
<rect x="941" y="89" width="1" height="10" fill="#ef5350"/><rect x="940" y="90" width="3" height="5" fill="#ef5350"/>
<rect x="945" y="99" width="1" height="26" fill="#ef5350"/><rect x="944" y="100" width="3" height="23" fill="#ef5350"/>
<rect x="948" y="113" width="1" height="31" fill="#26a69a"/><rect x="947" y="123" width="3" height="15" fill="#26a69a"/>
<rect x="952" y="118" width="1" height="28" fill="#ef5350"/><rect x="951" y="127" width="3" height="12" fill="#ef5350"/>
<rect x="955" y="139" width="1" height="23" fill="#ef5350"/><rect x="954" y="145" width="3" height="6" fill="#ef5350"/>
<rect x="959" y="133" width="1" height="22" fill="#26a69a"/><rect x="958" y="145" width="3" height="5" fill="#26a69a"/>
<rect x="962" y="114" width="1" height="57" fill="#ef5350"/><rect x="961" y="122" width="3" height="49" fill="#ef5350"/>
<rect x="966" y="141" width="1" height="34" fill="#26a69a"/><rect x="965" y="155" width="3" height="14" fill="#26a69a"/>
<rect x="969" y="127" width="1" height="21" fill="#26a69a"/><rect x="968" y="127" width="3" height="21" fill="#26a69a"/>
<rect x="973" y="111" width="1" height="30" fill="#26a69a"/><rect x="972" y="115" width="3" height="18" fill="#26a69a"/>
<rect x="976" y="99" width="1" height="11" fill="#26a69a"/><rect x="975" y="103" width="3" height="6" fill="#26a69a"/>
<rect x="980" y="94" width="1" height="8" fill="#26a69a"/><rect x="979" y="94" width="3" height="7" fill="#26a69a"/>
<rect x="983" y="97" width="1" height="9" fill="#26a69a"/><rect x="982" y="103" width="3" height="1" fill="#26a69a"/>
<rect x="987" y="94" width="1" height="10" fill="#ef5350"/><rect x="986" y="98" width="3" height="2" fill="#ef5350"/>
<rect x="990" y="91" width="1" height="13" fill="#26a69a"/><rect x="989" y="94" width="3" height="9" fill="#26a69a"/>
<rect x="994" y="90" width="1" height="10" fill="#ef5350"/><rect x="993" y="91" width="3" height="2" fill="#ef5350"/>
<rect x="997" y="83" width="1" height="9" fill="#26a69a"/><rect x="996" y="88" width="3" height="3" fill="#26a69a"/>
<rect x="1001" y="87" width="1" height="13" fill="#ef5350"/><rect x="1000" y="88" width="3" height="8" fill="#ef5350"/>
<rect x="1004" y="90" width="1" height="7" fill="#ef5350"/><rect x="1003" y="96" width="3" height="1" fill="#ef5350"/>
<rect x="1008" y="82" width="1" height="18" fill="#26a69a"/><rect x="1007" y="86" width="3" height="12" fill="#26a69a"/>
<rect x="1011" y="81" width="1" height="17" fill="#26a69a"/><rect x="1010" y="82" width="3" height="15" fill="#26a69a"/>
<rect x="1015" y="82" width="1" height="24" fill="#ef5350"/><rect x="1014" y="87" width="3" height="14" fill="#ef5350"/>
<rect x="1019" y="91" width="1" height="14" fill="#ef5350"/><rect x="1018" y="92" width="3" height="11" fill="#ef5350"/>
<rect x="1022" y="102" width="1" height="14" fill="#26a69a"/><rect x="1021" y="104" width="3" height="3" fill="#26a69a"/>
<rect x="1026" y="103" width="1" height="24" fill="#ef5350"/><rect x="1025" y="103" width="3" height="23" fill="#ef5350"/>
<rect x="1029" y="102" width="1" height="15" fill="#ef5350"/><rect x="1028" y="113" width="3" height="2" fill="#ef5350"/>
<rect x="1033" y="97" width="1" height="12" fill="#26a69a"/><rect x="1032" y="98" width="3" height="10" fill="#26a69a"/>
<rect x="1036" y="86" width="1" height="7" fill="#26a69a"/><rect x="1035" y="88" width="3" height="3" fill="#26a69a"/>
<rect x="1040" y="79" width="1" height="11" fill="#26a69a"/><rect x="1039" y="79" width="3" height="10" fill="#26a69a"/>
<rect x="1043" y="73" width="1" height="9" fill="#26a69a"/><rect x="1042" y="74" width="3" height="7" fill="#26a69a"/>
<rect x="1047" y="71" width="1" height="5" fill="#ef5350"/><rect x="1046" y="73" width="3" height="2" fill="#ef5350"/>
<rect x="1050" y="77" width="1" height="8" fill="#26a69a"/><rect x="1049" y="79" width="3" height="2" fill="#26a69a"/>
<rect x="1054" y="79" width="1" height="5" fill="#ef5350"/><rect x="1053" y="82" width="3" height="2" fill="#ef5350"/>
<rect x="1057" y="81" width="1" height="15" fill="#ef5350"/><rect x="1056" y="82" width="3" height="13" fill="#ef5350"/>
<rect x="1061" y="83" width="1" height="17" fill="#ef5350"/><rect x="1060" y="87" width="3" height="6" fill="#ef5350"/>
<rect x="1064" y="77" width="1" height="8" fill="#26a69a"/><rect x="1063" y="81" width="3" height="4" fill="#26a69a"/>
<rect x="1068" y="70" width="1" height="11" fill="#26a69a"/><rect x="1067" y="71" width="3" height="9" fill="#26a69a"/>
<rect x="1071" y="66" width="1" height="12" fill="#ef5350"/><rect x="1070" y="71" width="3" height="7" fill="#ef5350"/>
<rect x="1075" y="74" width="1" height="8" fill="#26a69a"/><rect x="1074" y="77" width="3" height="2" fill="#26a69a"/>
<rect x="1078" y="63" width="1" height="14" fill="#26a69a"/><rect x="1077" y="65" width="3" height="11" fill="#26a69a"/>
<rect x="1082" y="61" width="1" height="12" fill="#26a69a"/><rect x="1081" y="63" width="3" height="9" fill="#26a69a"/>
<rect x="1085" y="61" width="1" height="11" fill="#ef5350"/><rect x="1084" y="63" width="3" height="4" fill="#ef5350"/>
<rect x="1089" y="72" width="1" height="13" fill="#ef5350"/><rect x="1088" y="73" width="3" height="3" fill="#ef5350"/>
<rect x="1092" y="62" width="1" height="10" fill="#ef5350"/><rect x="1091" y="65" width="3" height="7" fill="#ef5350"/>
<rect x="1096" y="65" width="1" height="11" fill="#ef5350"/><rect x="1095" y="67" width="3" height="6" fill="#ef5350"/>
<rect x="1099" y="89" width="1" height="20" fill="#ef5350"/><rect x="1098" y="90" width="3" height="18" fill="#ef5350"/>
<rect x="1103" y="79" width="1" height="26" fill="#26a69a"/><rect x="1102" y="88" width="3" height="17" fill="#26a69a"/>
<rect x="1106" y="73" width="1" height="10" fill="#ef5350"/><rect x="1105" y="78" width="3" height="1" fill="#ef5350"/>
<rect x="1110" y="74" width="1" height="8" fill="#26a69a"/><rect x="1109" y="78" width="3" height="4" fill="#26a69a"/>
<rect x="1113" y="66" width="1" height="11" fill="#26a69a"/><rect x="1112" y="69" width="3" height="8" fill="#26a69a"/>
<rect x="1117" y="60" width="1" height="7" fill="#26a69a"/><rect x="1116" y="62" width="3" height="4" fill="#26a69a"/>
<rect x="1120" y="57" width="1" height="9" fill="#ef5350"/><rect x="1119" y="57" width="3" height="7" fill="#ef5350"/>
<rect x="1124" y="59" width="1" height="30" fill="#ef5350"/><rect x="1123" y="63" width="3" height="3" fill="#ef5350"/>
<rect x="1127" y="66" width="1" height="17" fill="#ef5350"/><rect x="1126" y="70" width="3" height="3" fill="#ef5350"/>
<rect x="1131" y="59" width="1" height="20" fill="#26a69a"/><rect x="1130" y="63" width="3" height="16" fill="#26a69a"/>
<rect x="1134" y="59" width="1" height="31" fill="#ef5350"/><rect x="1133" y="61" width="3" height="17" fill="#ef5350"/>
<rect x="1138" y="73" width="1" height="24" fill="#ef5350"/><rect x="1137" y="76" width="3" height="10" fill="#ef5350"/>
<rect x="1141" y="92" width="1" height="19" fill="#ef5350"/><rect x="1140" y="97" width="3" height="11" fill="#ef5350"/>
<rect x="1145" y="71" width="1" height="32" fill="#26a69a"/><rect x="1144" y="74" width="3" height="29" fill="#26a69a"/>
<rect x="1148" y="62" width="1" height="17" fill="#26a69a"/><rect x="1147" y="66" width="3" height="13" fill="#26a69a"/>
<rect x="1152" y="60" width="1" height="13" fill="#ef5350"/><rect x="1151" y="63" width="3" height="10" fill="#ef5350"/>
<rect x="1155" y="59" width="1" height="20" fill="#ef5350"/><rect x="1154" y="63" width="3" height="10" fill="#ef5350"/>
<rect x="1159" y="64" width="1" height="36" fill="#ef5350"/><rect x="1158" y="68" width="3" height="31" fill="#ef5350"/>
<rect x="1162" y="86" width="1" height="22" fill="#26a69a"/><rect x="1161" y="97" width="3" height="1" fill="#26a69a"/>
<rect x="1166" y="90" width="1" height="22" fill="#26a69a"/><rect x="1165" y="96" width="3" height="6" fill="#26a69a"/>
<rect x="1169" y="80" width="1" height="14" fill="#26a69a"/><rect x="1168" y="86" width="3" height="7" fill="#26a69a"/>
<rect x="1173" y="87" width="1" height="11" fill="#26a69a"/><rect x="1172" y="91" width="3" height="1" fill="#26a69a"/>
<rect x="1176" y="78" width="1" height="19" fill="#26a69a"/><rect x="1175" y="79" width="3" height="18" fill="#26a69a"/>
<rect x="1180" y="78" width="1" height="10" fill="#ef5350"/><rect x="1179" y="81" width="3" height="7" fill="#ef5350"/>
<rect x="11" y="338" width="1" height="1" fill="#ef5350"/>
<line x1="10" y1="87.5" x2="1285" y2="87.5" stroke="#ef5350" stroke-width="1" stroke-dasharray="1 2" shape-rendering="crispEdges"/>
</g>
<g clip-path="url(#cr)">
<defs><linearGradient id="gos" gradientUnits="userSpaceOnUse" x1="0" y1="781.5" x2="0" y2="817.5"><stop offset="0" stop-color="#f23645" stop-opacity="0"/><stop offset="1" stop-color="#f23645" stop-opacity="0.28"/></linearGradient><linearGradient id="gob" gradientUnits="userSpaceOnUse" x1="0" y1="651.6" x2="0" y2="615.6"><stop offset="0" stop-color="#4caf50" stop-opacity="0"/><stop offset="1" stop-color="#4caf50" stop-opacity="0.28"/></linearGradient><clipPath id="cos"><rect x="11" y="781.5" width="1274" height="38.5"/></clipPath><clipPath id="cob"><rect x="11" y="621" width="1274" height="30.6"/></clipPath></defs>
<path d="M10.4,670.4 L13.4,672.0 L16.0,699.4 L20.0,694.4 L23.6,695.6 L27.4,689.6 L30.4,685.6 L34.4,696.0 L37.0,743.5 L41.0,732.3 L45.0,738.5 L48.4,706.0 L52.0,668.0 L55.4,659.6 L59.0,655.6 L62.0,654.0 L66.0,661.6 L69.3,661.0 L72.9,678.0 L75.9,709.9 L79.9,701.6 L83.5,695.0 L86.9,694.4 L90.5,685.0 L93.9,678.4 L97.5,673.0 L100.9,664.0 L104.3,676.0 L107.9,667.0 L111.5,662.0 L114.9,661.0 L117.9,651.0 L121.9,657.0 L125.3,654.0 L128.9,676.0 L131.9,686.4 L135.9,670.0 L139.3,687.0 L142.9,687.4 L146.3,678.4 L149.9,691.6 L152.9,756.5 L156.9,757.9 L159.9,731.9 L164.3,715.9 L167.5,698.0 L171.1,699.0 L174.5,719.9 L177.9,736.9 L181.5,744.9 L185.1,748.9 L188.5,718.9 L192.1,712.3 L195.5,731.9 L198.9,727.9 L202.3,751.5 L205.8,748.9 L209.4,745.5 L213.0,710.9 L216.2,715.5 L219.8,702.0 L223.4,686.4 L226.8,678.4 L230.2,671.0 L234.2,677.6 L237.4,707.0 L241.0,693.6 L244.2,702.0 L248.0,694.0 L251.4,705.0 L255.0,717.9 L258.6,705.6 L262.0,699.6 L265.6,693.0 L269.2,712.3 L272.6,700.4 L276.2,700.0 L279.6,706.6 L283.2,688.4 L286.6,687.6 L290.2,684.0 L293.6,680.0 L297.2,692.4 L300.0,727.9 L304.2,737.9 L307.6,744.9 L311.2,744.3 L314.4,768.9 L318.1,733.9 L321.7,758.9 L325.1,770.9 L328.7,749.5 L332.1,767.9 L335.5,757.9 L339.1,781.5 L342.3,786.9 L346.1,777.9 L349.3,788.9 L353.1,755.5 L356.7,746.9 L360.1,756.9 L363.7,741.9 L367.1,743.9 L370.7,742.9 L374.1,718.3 L377.1,716.9 L381.3,731.5 L384.7,735.9 L388.1,755.5 L391.7,745.9 L395.3,740.9 L398.5,730.9 L401.3,763.9 L404.9,802.9 L409.1,804.3 L412.3,809.5 L415.9,728.3 L419.5,746.9 L423.1,735.5 L426.7,729.5 L430.3,730.3 L433.7,743.3 L437.3,742.3 L440.5,755.5 L444.3,738.3 L447.9,723.5 L451.3,710.9 L454.6,706.4 L458.2,705.6 L461.8,701.6 L465.2,700.0 L468.8,695.0 L472.2,685.0 L475.8,692.4 L479.2,700.0 L482.8,695.6 L486.2,691.6 L489.4,692.0 L493.2,665.6 L496.8,660.6 L500.2,659.6 L503.8,656.4 L507.2,651.6 L510.4,651.0 L514.0,658.0 L517.4,685.0 L521.0,686.0 L524.4,696.3 L528.0,675.0 L531.4,683.6 L535.0,680.0 L538.6,679.0 L542.4,675.0 L545.6,668.4 L549.2,668.4 L552.8,679.6 L556.4,667.6 L560.0,666.0 L563.0,659.0 L567.0,666.0 L570.2,661.0 L574.0,688.0 L577.2,674.4 L580.7,691.9 L584.3,693.5 L587.9,697.9 L591.3,683.6 L594.9,668.0 L597.9,667.0 L601.9,658.0 L605.3,650.4 L608.9,645.0 L612.3,648.0 L615.9,642.4 L619.3,633.0 L622.9,656.4 L626.3,659.0 L629.9,651.0 L633.3,647.0 L636.7,657.0 L640.3,655.0 L643.9,668.4 L647.5,661.0 L650.9,654.4 L654.3,654.0 L657.9,651.6 L661.3,651.0 L664.9,638.4 L668.3,637.0 L671.9,631.0 L675.3,631.0 L678.9,645.0 L682.3,652.0 L685.9,668.0 L689.1,723.5 L692.9,688.9 L696.3,701.9 L699.9,688.0 L703.3,689.5 L706.9,674.4 L710.3,682.0 L713.9,663.0 L717.2,657.6 L720.6,657.6 L724.2,667.0 L727.8,668.0 L731.2,687.0 L734.8,695.5 L738.2,707.3 L741.8,674.4 L745.0,687.6 L749.0,681.0 L752.4,675.0 L756.0,668.6 L759.4,688.9 L762.8,708.3 L766.4,693.5 L769.8,680.0 L773.4,689.5 L777.0,684.4 L780.4,678.4 L784.0,673.6 L787.4,658.4 L791.0,660.0 L794.4,652.4 L798.0,657.0 L801.4,661.0 L805.0,652.4 L808.4,642.4 L812.0,636.4 L815.6,660.0 L819.0,669.6 L822.4,688.3 L826.0,675.0 L829.6,668.0 L833.0,661.0 L836.6,655.0 L839.9,654.4 L843.5,653.0 L846.9,646.0 L850.5,665.0 L853.9,651.6 L857.5,662.0 L860.9,741.5 L864.5,708.3 L867.9,710.9 L871.3,703.5 L875.1,717.9 L878.5,702.9 L882.1,687.0 L885.5,687.6 L889.1,700.3 L892.5,688.0 L896.1,676.0 L899.5,658.4 L903.1,655.6 L906.5,655.6 L910.1,684.0 L913.5,679.0 L917.1,676.0 L920.5,706.3 L924.1,698.5 L927.5,723.3 L931.1,719.9 L934.5,690.9 L938.1,688.0 L941.5,687.0 L945.1,722.5 L948.5,723.3 L952.1,738.5 L955.3,752.3 L958.9,743.9 L962.3,765.9 L966.1,745.5 L969.5,717.9 L973.1,705.9 L976.6,694.9 L980.0,687.6 L983.6,697.9 L987.0,693.9 L990.6,689.5 L994.0,688.0 L997.4,684.4 L1001.0,692.3 L1004.6,695.5 L1007.8,683.0 L1011.4,679.0 L1015.0,705.9 L1018.6,710.9 L1022.2,715.9 L1025.2,739.5 L1029.0,721.9 L1032.6,703.9 L1036.0,692.9 L1039.6,684.0 L1043.0,679.0 L1046.4,679.6 L1050.0,689.9 L1053.4,694.9 L1057.0,712.9 L1060.8,707.9 L1064.2,693.5 L1067.8,681.6 L1071.2,690.9 L1074.6,690.9 L1078.2,678.0 L1081.8,674.4 L1085.2,683.0 L1088.7,698.9 L1092.1,692.9 L1095.5,694.3 L1098.9,746.9 L1102.5,721.9 L1106.1,707.5 L1109.7,706.3 L1113.1,694.9 L1116.7,688.3 L1120.1,688.9 L1123.7,691.9 L1127.1,705.5 L1130.7,691.9 L1134.1,713.9 L1137.7,725.5 L1140.9,752.3 L1144.7,708.9 L1148.1,700.5 L1151.7,706.9 L1155.3,707.5 L1158.9,737.9 L1162.3,736.3 L1165.9,734.3 L1169.3,720.9 L1172.9,727.5 L1176.3,711.9 L1179.9,722.3 L1179.9,781.5 L10.4,781.5 Z" fill="url(#gos)" clip-path="url(#cos)"/>
<path d="M10.4,670.4 L13.4,672.0 L16.0,699.4 L20.0,694.4 L23.6,695.6 L27.4,689.6 L30.4,685.6 L34.4,696.0 L37.0,743.5 L41.0,732.3 L45.0,738.5 L48.4,706.0 L52.0,668.0 L55.4,659.6 L59.0,655.6 L62.0,654.0 L66.0,661.6 L69.3,661.0 L72.9,678.0 L75.9,709.9 L79.9,701.6 L83.5,695.0 L86.9,694.4 L90.5,685.0 L93.9,678.4 L97.5,673.0 L100.9,664.0 L104.3,676.0 L107.9,667.0 L111.5,662.0 L114.9,661.0 L117.9,651.0 L121.9,657.0 L125.3,654.0 L128.9,676.0 L131.9,686.4 L135.9,670.0 L139.3,687.0 L142.9,687.4 L146.3,678.4 L149.9,691.6 L152.9,756.5 L156.9,757.9 L159.9,731.9 L164.3,715.9 L167.5,698.0 L171.1,699.0 L174.5,719.9 L177.9,736.9 L181.5,744.9 L185.1,748.9 L188.5,718.9 L192.1,712.3 L195.5,731.9 L198.9,727.9 L202.3,751.5 L205.8,748.9 L209.4,745.5 L213.0,710.9 L216.2,715.5 L219.8,702.0 L223.4,686.4 L226.8,678.4 L230.2,671.0 L234.2,677.6 L237.4,707.0 L241.0,693.6 L244.2,702.0 L248.0,694.0 L251.4,705.0 L255.0,717.9 L258.6,705.6 L262.0,699.6 L265.6,693.0 L269.2,712.3 L272.6,700.4 L276.2,700.0 L279.6,706.6 L283.2,688.4 L286.6,687.6 L290.2,684.0 L293.6,680.0 L297.2,692.4 L300.0,727.9 L304.2,737.9 L307.6,744.9 L311.2,744.3 L314.4,768.9 L318.1,733.9 L321.7,758.9 L325.1,770.9 L328.7,749.5 L332.1,767.9 L335.5,757.9 L339.1,781.5 L342.3,786.9 L346.1,777.9 L349.3,788.9 L353.1,755.5 L356.7,746.9 L360.1,756.9 L363.7,741.9 L367.1,743.9 L370.7,742.9 L374.1,718.3 L377.1,716.9 L381.3,731.5 L384.7,735.9 L388.1,755.5 L391.7,745.9 L395.3,740.9 L398.5,730.9 L401.3,763.9 L404.9,802.9 L409.1,804.3 L412.3,809.5 L415.9,728.3 L419.5,746.9 L423.1,735.5 L426.7,729.5 L430.3,730.3 L433.7,743.3 L437.3,742.3 L440.5,755.5 L444.3,738.3 L447.9,723.5 L451.3,710.9 L454.6,706.4 L458.2,705.6 L461.8,701.6 L465.2,700.0 L468.8,695.0 L472.2,685.0 L475.8,692.4 L479.2,700.0 L482.8,695.6 L486.2,691.6 L489.4,692.0 L493.2,665.6 L496.8,660.6 L500.2,659.6 L503.8,656.4 L507.2,651.6 L510.4,651.0 L514.0,658.0 L517.4,685.0 L521.0,686.0 L524.4,696.3 L528.0,675.0 L531.4,683.6 L535.0,680.0 L538.6,679.0 L542.4,675.0 L545.6,668.4 L549.2,668.4 L552.8,679.6 L556.4,667.6 L560.0,666.0 L563.0,659.0 L567.0,666.0 L570.2,661.0 L574.0,688.0 L577.2,674.4 L580.7,691.9 L584.3,693.5 L587.9,697.9 L591.3,683.6 L594.9,668.0 L597.9,667.0 L601.9,658.0 L605.3,650.4 L608.9,645.0 L612.3,648.0 L615.9,642.4 L619.3,633.0 L622.9,656.4 L626.3,659.0 L629.9,651.0 L633.3,647.0 L636.7,657.0 L640.3,655.0 L643.9,668.4 L647.5,661.0 L650.9,654.4 L654.3,654.0 L657.9,651.6 L661.3,651.0 L664.9,638.4 L668.3,637.0 L671.9,631.0 L675.3,631.0 L678.9,645.0 L682.3,652.0 L685.9,668.0 L689.1,723.5 L692.9,688.9 L696.3,701.9 L699.9,688.0 L703.3,689.5 L706.9,674.4 L710.3,682.0 L713.9,663.0 L717.2,657.6 L720.6,657.6 L724.2,667.0 L727.8,668.0 L731.2,687.0 L734.8,695.5 L738.2,707.3 L741.8,674.4 L745.0,687.6 L749.0,681.0 L752.4,675.0 L756.0,668.6 L759.4,688.9 L762.8,708.3 L766.4,693.5 L769.8,680.0 L773.4,689.5 L777.0,684.4 L780.4,678.4 L784.0,673.6 L787.4,658.4 L791.0,660.0 L794.4,652.4 L798.0,657.0 L801.4,661.0 L805.0,652.4 L808.4,642.4 L812.0,636.4 L815.6,660.0 L819.0,669.6 L822.4,688.3 L826.0,675.0 L829.6,668.0 L833.0,661.0 L836.6,655.0 L839.9,654.4 L843.5,653.0 L846.9,646.0 L850.5,665.0 L853.9,651.6 L857.5,662.0 L860.9,741.5 L864.5,708.3 L867.9,710.9 L871.3,703.5 L875.1,717.9 L878.5,702.9 L882.1,687.0 L885.5,687.6 L889.1,700.3 L892.5,688.0 L896.1,676.0 L899.5,658.4 L903.1,655.6 L906.5,655.6 L910.1,684.0 L913.5,679.0 L917.1,676.0 L920.5,706.3 L924.1,698.5 L927.5,723.3 L931.1,719.9 L934.5,690.9 L938.1,688.0 L941.5,687.0 L945.1,722.5 L948.5,723.3 L952.1,738.5 L955.3,752.3 L958.9,743.9 L962.3,765.9 L966.1,745.5 L969.5,717.9 L973.1,705.9 L976.6,694.9 L980.0,687.6 L983.6,697.9 L987.0,693.9 L990.6,689.5 L994.0,688.0 L997.4,684.4 L1001.0,692.3 L1004.6,695.5 L1007.8,683.0 L1011.4,679.0 L1015.0,705.9 L1018.6,710.9 L1022.2,715.9 L1025.2,739.5 L1029.0,721.9 L1032.6,703.9 L1036.0,692.9 L1039.6,684.0 L1043.0,679.0 L1046.4,679.6 L1050.0,689.9 L1053.4,694.9 L1057.0,712.9 L1060.8,707.9 L1064.2,693.5 L1067.8,681.6 L1071.2,690.9 L1074.6,690.9 L1078.2,678.0 L1081.8,674.4 L1085.2,683.0 L1088.7,698.9 L1092.1,692.9 L1095.5,694.3 L1098.9,746.9 L1102.5,721.9 L1106.1,707.5 L1109.7,706.3 L1113.1,694.9 L1116.7,688.3 L1120.1,688.9 L1123.7,691.9 L1127.1,705.5 L1130.7,691.9 L1134.1,713.9 L1137.7,725.5 L1140.9,752.3 L1144.7,708.9 L1148.1,700.5 L1151.7,706.9 L1155.3,707.5 L1158.9,737.9 L1162.3,736.3 L1165.9,734.3 L1169.3,720.9 L1172.9,727.5 L1176.3,711.9 L1179.9,722.3 L1179.9,651.6 L10.4,651.6 Z" fill="url(#gob)" clip-path="url(#cob)"/>
<path d="M10.4,675.6 L15.0,676.0 L20.0,677.4 L26.0,677.4 L34.0,680.0 L40.0,689.6 L48.0,697.4 L54.0,697.0 L60.0,695.0 L68.0,689.0 L72.9,688.0 L77.9,690.4 L82.9,690.4 L87.9,685.0 L95.9,677.0 L99.9,676.6 L105.9,678.4 L112.9,679.4 L121.9,677.0 L125.9,672.4 L131.9,670.4 L137.9,668.6 L143.9,669.4 L149.9,672.0 L154.9,681.0 L159.9,689.0 L165.9,695.6 L171.9,701.0 L177.9,709.5 L185.9,719.5 L191.9,722.9 L197.9,727.9 L203.9,728.3 L209.8,728.5 L215.8,729.9 L219.8,729.9 L225.8,723.9 L231.8,715.5 L237.8,711.9 L243.8,708.3 L251.8,702.0 L257.8,698.0 L262.0,695.6 L267.0,695.0 L274.0,697.4 L280.0,701.0 L286.0,700.0 L292.0,698.0 L297.0,698.0 L303.0,700.0 L309.0,705.6 L314.0,711.5 L318.9,714.9 L324.9,721.9 L330.9,729.5 L335.9,737.9 L340.9,748.9 L345.9,757.9 L349.9,762.3 L354.9,763.9 L358.9,764.3 L362.9,762.3 L367.9,763.3 L373.9,759.5 L379.9,754.9 L385.9,750.9 L390.9,747.5 L394.9,743.9 L398.9,739.9 L402.9,742.9 L407.9,748.9 L412.3,753.9 L417.9,752.9 L423.9,754.3 L429.9,755.5 L435.9,755.5 L441.9,754.9 L446.9,754.3 L450.9,749.9 L454.8,741.9 L458.8,732.9 L461.8,727.9 L464.8,725.9 L469.8,719.9 L475.8,715.5 L481.8,710.9 L487.8,704.0 L493.8,696.4 L499.8,689.6 L505.8,683.0 L511.8,677.0 L516.0,674.4 L522.0,675.0 L530.0,672.4 L538.0,671.0 L546.0,672.0 L554.0,675.0 L562.0,676.4 L570.0,673.6 L576.0,672.4 L583.9,674.0 L590.9,676.0 L597.9,676.0 L605.9,673.0 L613.9,670.0 L621.9,666.0 L629.9,661.6 L635.9,656.0 L640.9,653.0 L647.9,652.4 L655.9,653.0 L661.9,653.6 L668.9,653.0 L675.9,650.0 L680.9,649.4 L685.9,650.4 L688.9,655.0 L694.9,659.0 L701.9,664.0 L709.9,669.0 L717.8,672.4 L725.8,677.0 L731.8,681.0 L735.8,681.6 L741.8,680.0 L749.8,678.0 L756.8,676.4 L761.8,679.6 L767.8,683.6 L774.0,687.0 L779.0,687.6 L784.0,685.6 L789.0,682.0 L794.0,679.0 L800.0,676.4 L806.0,674.0 L811.0,668.0 L815.0,664.0 L820.0,662.6 L826.0,662.0 L832.0,661.0 L838.0,660.0 L843.9,659.6 L849.9,659.4 L855.9,660.6 L860.9,668.0 L865.9,672.4 L871.9,676.0 L877.9,681.0 L883.9,684.4 L889.9,688.9 L895.9,693.3 L901.9,693.5 L905.9,692.9 L910.9,688.0 L915.9,685.0 L923.9,683.4 L929.9,686.0 L935.9,686.4 L940.9,685.6 L945.9,689.9 L950.9,698.9 L955.9,707.9 L959.9,712.9 L964.9,719.9 L967.9,722.3 L971.9,722.9 L975.8,720.9 L979.8,718.5 L984.8,718.9 L989.8,719.3 L995.8,715.9 L1001.8,709.9 L1007.8,702.9 L1012.8,695.5 L1017.8,693.3 L1024.0,695.9 L1029.0,699.5 L1036.0,699.9 L1044.0,698.9 L1052.0,698.5 L1057.0,700.5 L1062.0,702.3 L1068.0,699.5 L1074.0,694.9 L1080.0,690.3 L1084.0,688.9 L1089.9,690.3 L1095.9,691.9 L1099.9,695.9 L1103.9,697.3 L1111.9,697.1 L1117.9,697.9 L1123.9,697.5 L1128.9,699.9 L1133.9,702.9 L1139.9,709.5 L1144.9,710.3 L1149.9,706.9 L1155.9,706.9 L1161.9,711.9 L1167.9,716.9 L1173.9,719.9 L1179.9,722.3" fill="none" stroke="#fdd835" stroke-width="1.2" stroke-linejoin="round" stroke-linecap="round" />
<path d="M10.4,670.4 L13.4,672.0 L16.0,699.4 L20.0,694.4 L23.6,695.6 L27.4,689.6 L30.4,685.6 L34.4,696.0 L37.0,743.5 L41.0,732.3 L45.0,738.5 L48.4,706.0 L52.0,668.0 L55.4,659.6 L59.0,655.6 L62.0,654.0 L66.0,661.6 L69.3,661.0 L72.9,678.0 L75.9,709.9 L79.9,701.6 L83.5,695.0 L86.9,694.4 L90.5,685.0 L93.9,678.4 L97.5,673.0 L100.9,664.0 L104.3,676.0 L107.9,667.0 L111.5,662.0 L114.9,661.0 L117.9,651.0 L121.9,657.0 L125.3,654.0 L128.9,676.0 L131.9,686.4 L135.9,670.0 L139.3,687.0 L142.9,687.4 L146.3,678.4 L149.9,691.6 L152.9,756.5 L156.9,757.9 L159.9,731.9 L164.3,715.9 L167.5,698.0 L171.1,699.0 L174.5,719.9 L177.9,736.9 L181.5,744.9 L185.1,748.9 L188.5,718.9 L192.1,712.3 L195.5,731.9 L198.9,727.9 L202.3,751.5 L205.8,748.9 L209.4,745.5 L213.0,710.9 L216.2,715.5 L219.8,702.0 L223.4,686.4 L226.8,678.4 L230.2,671.0 L234.2,677.6 L237.4,707.0 L241.0,693.6 L244.2,702.0 L248.0,694.0 L251.4,705.0 L255.0,717.9 L258.6,705.6 L262.0,699.6 L265.6,693.0 L269.2,712.3 L272.6,700.4 L276.2,700.0 L279.6,706.6 L283.2,688.4 L286.6,687.6 L290.2,684.0 L293.6,680.0 L297.2,692.4 L300.0,727.9 L304.2,737.9 L307.6,744.9 L311.2,744.3 L314.4,768.9 L318.1,733.9 L321.7,758.9 L325.1,770.9 L328.7,749.5 L332.1,767.9 L335.5,757.9 L339.1,781.5 L342.3,786.9 L346.1,777.9 L349.3,788.9 L353.1,755.5 L356.7,746.9 L360.1,756.9 L363.7,741.9 L367.1,743.9 L370.7,742.9 L374.1,718.3 L377.1,716.9 L381.3,731.5 L384.7,735.9 L388.1,755.5 L391.7,745.9 L395.3,740.9 L398.5,730.9 L401.3,763.9 L404.9,802.9 L409.1,804.3 L412.3,809.5 L415.9,728.3 L419.5,746.9 L423.1,735.5 L426.7,729.5 L430.3,730.3 L433.7,743.3 L437.3,742.3 L440.5,755.5 L444.3,738.3 L447.9,723.5 L451.3,710.9 L454.6,706.4 L458.2,705.6 L461.8,701.6 L465.2,700.0 L468.8,695.0 L472.2,685.0 L475.8,692.4 L479.2,700.0 L482.8,695.6 L486.2,691.6 L489.4,692.0 L493.2,665.6 L496.8,660.6 L500.2,659.6 L503.8,656.4 L507.2,651.6 L510.4,651.0 L514.0,658.0 L517.4,685.0 L521.0,686.0 L524.4,696.3 L528.0,675.0 L531.4,683.6 L535.0,680.0 L538.6,679.0 L542.4,675.0 L545.6,668.4 L549.2,668.4 L552.8,679.6 L556.4,667.6 L560.0,666.0 L563.0,659.0 L567.0,666.0 L570.2,661.0 L574.0,688.0 L577.2,674.4 L580.7,691.9 L584.3,693.5 L587.9,697.9 L591.3,683.6 L594.9,668.0 L597.9,667.0 L601.9,658.0 L605.3,650.4 L608.9,645.0 L612.3,648.0 L615.9,642.4 L619.3,633.0 L622.9,656.4 L626.3,659.0 L629.9,651.0 L633.3,647.0 L636.7,657.0 L640.3,655.0 L643.9,668.4 L647.5,661.0 L650.9,654.4 L654.3,654.0 L657.9,651.6 L661.3,651.0 L664.9,638.4 L668.3,637.0 L671.9,631.0 L675.3,631.0 L678.9,645.0 L682.3,652.0 L685.9,668.0 L689.1,723.5 L692.9,688.9 L696.3,701.9 L699.9,688.0 L703.3,689.5 L706.9,674.4 L710.3,682.0 L713.9,663.0 L717.2,657.6 L720.6,657.6 L724.2,667.0 L727.8,668.0 L731.2,687.0 L734.8,695.5 L738.2,707.3 L741.8,674.4 L745.0,687.6 L749.0,681.0 L752.4,675.0 L756.0,668.6 L759.4,688.9 L762.8,708.3 L766.4,693.5 L769.8,680.0 L773.4,689.5 L777.0,684.4 L780.4,678.4 L784.0,673.6 L787.4,658.4 L791.0,660.0 L794.4,652.4 L798.0,657.0 L801.4,661.0 L805.0,652.4 L808.4,642.4 L812.0,636.4 L815.6,660.0 L819.0,669.6 L822.4,688.3 L826.0,675.0 L829.6,668.0 L833.0,661.0 L836.6,655.0 L839.9,654.4 L843.5,653.0 L846.9,646.0 L850.5,665.0 L853.9,651.6 L857.5,662.0 L860.9,741.5 L864.5,708.3 L867.9,710.9 L871.3,703.5 L875.1,717.9 L878.5,702.9 L882.1,687.0 L885.5,687.6 L889.1,700.3 L892.5,688.0 L896.1,676.0 L899.5,658.4 L903.1,655.6 L906.5,655.6 L910.1,684.0 L913.5,679.0 L917.1,676.0 L920.5,706.3 L924.1,698.5 L927.5,723.3 L931.1,719.9 L934.5,690.9 L938.1,688.0 L941.5,687.0 L945.1,722.5 L948.5,723.3 L952.1,738.5 L955.3,752.3 L958.9,743.9 L962.3,765.9 L966.1,745.5 L969.5,717.9 L973.1,705.9 L976.6,694.9 L980.0,687.6 L983.6,697.9 L987.0,693.9 L990.6,689.5 L994.0,688.0 L997.4,684.4 L1001.0,692.3 L1004.6,695.5 L1007.8,683.0 L1011.4,679.0 L1015.0,705.9 L1018.6,710.9 L1022.2,715.9 L1025.2,739.5 L1029.0,721.9 L1032.6,703.9 L1036.0,692.9 L1039.6,684.0 L1043.0,679.0 L1046.4,679.6 L1050.0,689.9 L1053.4,694.9 L1057.0,712.9 L1060.8,707.9 L1064.2,693.5 L1067.8,681.6 L1071.2,690.9 L1074.6,690.9 L1078.2,678.0 L1081.8,674.4 L1085.2,683.0 L1088.7,698.9 L1092.1,692.9 L1095.5,694.3 L1098.9,746.9 L1102.5,721.9 L1106.1,707.5 L1109.7,706.3 L1113.1,694.9 L1116.7,688.3 L1120.1,688.9 L1123.7,691.9 L1127.1,705.5 L1130.7,691.9 L1134.1,713.9 L1137.7,725.5 L1140.9,752.3 L1144.7,708.9 L1148.1,700.5 L1151.7,706.9 L1155.3,707.5 L1158.9,737.9 L1162.3,736.3 L1165.9,734.3 L1169.3,720.9 L1172.9,727.5 L1176.3,711.9 L1179.9,722.3" fill="none" stroke="#7e57c2" stroke-width="2.9" stroke-linejoin="round" stroke-linecap="round" />
</g>
<g><circle cx="1180.5" cy="607.3" r="11.2" fill="#fff"/><path d="M1189.84,604.34 A9.8,9.8 0 1 1 1183.69,598.03" fill="none" stroke="#9c27b0" stroke-width="1.5" stroke-linecap="round"/><path d="M1183.1,602.1 L1176.2,607.6 L1180.2,607.9 L1177.1,612.8 L1184.7,607.3 L1180.6,607.0 Z" fill="#9c27b0"/><circle cx="1187.4" cy="600.5" r="2.5" fill="#f23645"/></g>
<g shape-rendering="crispEdges" fill="none" stroke-width="1">
<rect x="10.5" y="27.5" width="1340" height="820" stroke="#ebedf0"/>
<line x1="1285.5" y1="28" x2="1285.5" y2="847" stroke="#e0e3eb"/>
<line x1="11" y1="620.5" x2="1350" y2="620.5" stroke="#e0e3eb"/>
<line x1="11" y1="820.5" x2="1350" y2="820.5" stroke="#e0e3eb"/>
</g>
<text x="10.3" y="19.2" font-size="13" fill="#131722" font-weight="normal" text-anchor="start" textLength="361.3" lengthAdjust="spacingAndGlyphs" >ranadagger created with TradingView.com, Feb 23, 2026 15:00 UTC</text>
<text x="18" y="45.8" font-size="12" fill="#131722" font-weight="normal" text-anchor="start" textLength="134.6" lengthAdjust="spacingAndGlyphs" >S&amp;P 500 Index · 1D · TVC</text>
<text x="159.8" y="45.8" font-size="12" fill="#131722" font-weight="normal" text-anchor="start" textLength="8.2" lengthAdjust="spacingAndGlyphs" >O</text>
<text x="168.2" y="45.8" font-size="12" fill="#ef5350" font-weight="normal" text-anchor="start" textLength="45.3" lengthAdjust="spacingAndGlyphs" >6,901.25</text>
<text x="222" y="45.8" font-size="12" fill="#131722" font-weight="normal" text-anchor="start" textLength="7.6" lengthAdjust="spacingAndGlyphs" >H</text>
<text x="230" y="45.8" font-size="12" fill="#ef5350" font-weight="normal" text-anchor="start" textLength="45.2" lengthAdjust="spacingAndGlyphs" >6,916.96</text>
<text x="283.7" y="45.8" font-size="12" fill="#131722" font-weight="normal" text-anchor="start" textLength="6" lengthAdjust="spacingAndGlyphs" >L</text>
<text x="290" y="45.8" font-size="12" fill="#ef5350" font-weight="normal" text-anchor="start" textLength="45.1" lengthAdjust="spacingAndGlyphs" >6,877.24</text>
<text x="343.4" y="45.8" font-size="12" fill="#131722" font-weight="normal" text-anchor="start" textLength="7.4" lengthAdjust="spacingAndGlyphs" >C</text>
<text x="351" y="45.8" font-size="12" fill="#ef5350" font-weight="normal" text-anchor="start" textLength="45.1" lengthAdjust="spacingAndGlyphs" >6,878.97</text>
<text x="404.6" y="45.8" font-size="12" fill="#ef5350" font-weight="normal" text-anchor="start" textLength="83.5" lengthAdjust="spacingAndGlyphs" >−30.54 (−0.44%)</text>
<text x="18" y="63.2" font-size="12" fill="#131722" font-weight="normal" text-anchor="start" textLength="82.5" lengthAdjust="spacingAndGlyphs" >EMA (20, close)</text>
<text x="107.5" y="63.2" font-size="12" fill="#2962ff" font-weight="normal" text-anchor="start" textLength="46.5" lengthAdjust="spacingAndGlyphs" >6,895.04</text>
<text x="18" y="80.3" font-size="12" fill="#131722" font-weight="normal" text-anchor="start" textLength="81.5" lengthAdjust="spacingAndGlyphs" >SMA (50, close)</text>
<text x="107" y="80.3" font-size="12" fill="#f23645" font-weight="normal" text-anchor="start" textLength="46.5" lengthAdjust="spacingAndGlyphs" >6,896.85</text>
<text x="18.2" y="640" font-size="12" fill="#131722" font-weight="normal" text-anchor="start" textLength="75.8" lengthAdjust="spacingAndGlyphs" >RSI (14, close)</text>
<text x="102" y="640" font-size="12" fill="#7e57c2" font-weight="normal" text-anchor="start" textLength="28.7" lengthAdjust="spacingAndGlyphs" >48.26</text>
<text x="138" y="640" font-size="12" fill="#fdd835" font-weight="normal" text-anchor="start" textLength="30" lengthAdjust="spacingAndGlyphs" >48.05</text>
<text x="1294" y="600.6" font-size="12" fill="#131722" font-weight="normal" text-anchor="start" textLength="46.3" lengthAdjust="spacingAndGlyphs" >4,800.00</text>
<text x="1294" y="551.6" font-size="12" fill="#131722" font-weight="normal" text-anchor="start" textLength="46.3" lengthAdjust="spacingAndGlyphs" >5,000.00</text>
<text x="1294" y="502.6" font-size="12" fill="#131722" font-weight="normal" text-anchor="start" textLength="46.3" lengthAdjust="spacingAndGlyphs" >5,200.00</text>
<text x="1294" y="453.6" font-size="12" fill="#131722" font-weight="normal" text-anchor="start" textLength="46.3" lengthAdjust="spacingAndGlyphs" >5,400.00</text>
<text x="1294" y="404.6" font-size="12" fill="#131722" font-weight="normal" text-anchor="start" textLength="46.3" lengthAdjust="spacingAndGlyphs" >5,600.00</text>
<text x="1294" y="355.6" font-size="12" fill="#131722" font-weight="normal" text-anchor="start" textLength="46.3" lengthAdjust="spacingAndGlyphs" >5,800.00</text>
<text x="1294" y="306.6" font-size="12" fill="#131722" font-weight="normal" text-anchor="start" textLength="46.3" lengthAdjust="spacingAndGlyphs" >6,000.00</text>
<text x="1294" y="256.6" font-size="12" fill="#131722" font-weight="normal" text-anchor="start" textLength="46.3" lengthAdjust="spacingAndGlyphs" >6,200.00</text>
<text x="1294" y="207.6" font-size="12" fill="#131722" font-weight="normal" text-anchor="start" textLength="46.3" lengthAdjust="spacingAndGlyphs" >6,400.00</text>
<text x="1294" y="158.6" font-size="12" fill="#131722" font-weight="normal" text-anchor="start" textLength="46.3" lengthAdjust="spacingAndGlyphs" >6,600.00</text>
<text x="1294" y="656.3" font-size="12" fill="#131722" font-weight="normal" text-anchor="start" textLength="29.7" lengthAdjust="spacingAndGlyphs" >70.00</text>
<text x="1294" y="688.3" font-size="12" fill="#131722" font-weight="normal" text-anchor="start" textLength="29.7" lengthAdjust="spacingAndGlyphs" >60.00</text>
<text x="1294" y="721.3" font-size="12" fill="#131722" font-weight="normal" text-anchor="start" textLength="29.7" lengthAdjust="spacingAndGlyphs" >50.00</text>
<text x="1294" y="753.3" font-size="12" fill="#131722" font-weight="normal" text-anchor="start" textLength="29.7" lengthAdjust="spacingAndGlyphs" >40.00</text>
<text x="1294" y="786.3" font-size="12" fill="#131722" font-weight="normal" text-anchor="start" textLength="29.7" lengthAdjust="spacingAndGlyphs" >30.00</text>
<text x="1294" y="818.3" font-size="12" fill="#131722" font-weight="normal" text-anchor="start" textLength="29.7" lengthAdjust="spacingAndGlyphs" >20.00</text>
<rect x="1288.5" y="31.5" width="58" height="25" rx="4" ry="4" fill="#fff" stroke="#e0e3eb" stroke-width="1"/>
<text x="1298.2" y="48.6" font-size="12" fill="#131722" font-weight="normal" text-anchor="start" textLength="20.5" lengthAdjust="spacingAndGlyphs" >USD</text>
<path d="M1286,61 H1344 Q1346,61 1346,63 V77 Q1346,79 1344,79 H1286 Z" fill="#f23645"/>
<path d="M1285,45.3 H1238 Q1235,45.3 1235,48.3 V58.8 Q1235,61.8 1238,61.8 H1285 Z" fill="#f23645"/>
<text x="1240.5" y="57.6" font-size="12" fill="#fff" font-weight="normal" text-anchor="start" textLength="40.5" lengthAdjust="spacingAndGlyphs" stroke="#fff" stroke-width="0.35">SMA:MA</text>
<path d="M1285,62 H1257 Q1254,62 1254,65 V76 Q1254,79 1257,79 H1285 Z" fill="#2962ff"/>
<text x="1259" y="74" font-size="12" fill="#fff" font-weight="normal" text-anchor="start" textLength="22" lengthAdjust="spacingAndGlyphs" stroke="#fff" stroke-width="0.35">EMA</text>
<path d="M1286,62 H1344 Q1346,62 1346,64 V77 Q1346,79 1344,79 H1286 Z" fill="#2962ff"/>
<text x="1294" y="74" font-size="12" fill="#fff" font-weight="normal" text-anchor="start" textLength="46.5" lengthAdjust="spacingAndGlyphs" stroke="#fff" stroke-width="0.35">6,895.04</text>
<path d="M1285,79.2 H1260.3 Q1257.3,79.2 1257.3,82.2 V92.8 Q1257.3,95.8 1260.3,95.8 H1285 Z" fill="#ef5350"/>
<text x="1262" y="91" font-size="12" fill="#fff" font-weight="normal" text-anchor="start" textLength="19" lengthAdjust="spacingAndGlyphs" stroke="#fff" stroke-width="0.35">SPX</text>
<path d="M1286,79 H1344 Q1346,79 1346,81 V122 Q1346,124 1344,124 H1286 Z" fill="#ef5350"/>
<text x="1294" y="91" font-size="12" fill="#fff" font-weight="normal" text-anchor="start" textLength="46.5" lengthAdjust="spacingAndGlyphs" stroke="#fff" stroke-width="0.35">6,878.97</text>
<text x="1294" y="105" font-size="12" fill="#fff" font-weight="normal" text-anchor="start" textLength="43" lengthAdjust="spacingAndGlyphs" stroke="#fff" stroke-width="0.35">+17.43%</text>
<text x="1294" y="119" font-size="12" fill="rgba(255,255,255,0.78)" font-weight="normal" text-anchor="start" textLength="46.5" lengthAdjust="spacingAndGlyphs" stroke="rgba(255,255,255,0.5)" stroke-width="0.3">06:09:34</text>
<path d="M1286,124 H1344 Q1346,124 1346,126 V139 Q1346,141 1344,141 H1286 Z" fill="#0000ff"/>
<text x="1294" y="136" font-size="12" fill="#fff" font-weight="normal" text-anchor="start" textLength="46.5" lengthAdjust="spacingAndGlyphs" stroke="#fff" stroke-width="0.35">6,775.00</text>
<path d="M1286,160 H1344 Q1346,160 1346,162 V175 Q1346,177 1344,177 H1286 Z" fill="#0000ff"/>
<text x="1294" y="172" font-size="12" fill="#fff" font-weight="normal" text-anchor="start" textLength="46.5" lengthAdjust="spacingAndGlyphs" stroke="#fff" stroke-width="0.35">6,550.00</text>
<path d="M1286,259 H1344 Q1346,259 1346,261 V274 Q1346,276 1344,276 H1286 Z" fill="#0000ff"/>
<text x="1294" y="271" font-size="12" fill="#fff" font-weight="normal" text-anchor="start" textLength="46.5" lengthAdjust="spacingAndGlyphs" stroke="#fff" stroke-width="0.35">6,147.00</text>
<path d="M1285,731.3 H1209 Q1206,731.3 1206,734.3 V744.8 Q1206,747.8 1209,747.8 H1285 Z" fill="#fdd835"/>
<path d="M1286,731.3 H1327 Q1329,731.3 1329,733.3 V745.8 Q1329,747.8 1327,747.8 H1286 Z" fill="#fdd835"/>
<text x="1210.8" y="743.6" font-size="12" fill="#131722" font-weight="normal" text-anchor="start" textLength="70.4" lengthAdjust="spacingAndGlyphs" >RSI-based MA</text>
<text x="1293.8" y="743.6" font-size="12" fill="#131722" font-weight="normal" text-anchor="start" textLength="29.5" lengthAdjust="spacingAndGlyphs" >48.05</text>
<path d="M1285,714 H1263.2 Q1260.2,714 1260.2,717 V728 Q1260.2,731 1263.2,731 H1285 Z" fill="#7e57c2"/>
<path d="M1286,714 H1327 Q1329,714 1329,716 V729 Q1329,731 1327,731 H1286 Z" fill="#7e57c2"/>
<text x="1264.8" y="726.7" font-size="12" fill="#fff" font-weight="normal" text-anchor="start" textLength="16" lengthAdjust="spacingAndGlyphs" stroke="#fff" stroke-width="0.35">RSI</text>
<text x="1293.8" y="726.7" font-size="12" fill="#fff" font-weight="normal" text-anchor="start" textLength="29.5" lengthAdjust="spacingAndGlyphs" stroke="#fff" stroke-width="0.35">48.26</text>
<text x="41.5" y="838" font-size="12" fill="#131722" font-weight="normal" text-anchor="middle" >Nov</text>
<text x="111.5" y="838" font-size="12" fill="#131722" font-weight="normal" text-anchor="middle" >Dec</text>
<text x="185.6476" y="838" font-size="12" fill="#131722" font-weight="normal" text-anchor="middle" stroke="#131722" stroke-width="0.45">2025</text>
<text x="255.5" y="838" font-size="12" fill="#131722" font-weight="normal" text-anchor="middle" >Feb</text>
<text x="321.5" y="838" font-size="12" fill="#131722" font-weight="normal" text-anchor="middle" >Mar</text>
<text x="395.5" y="838" font-size="12" fill="#131722" font-weight="normal" text-anchor="middle" >Apr</text>
<text x="468.5" y="838" font-size="12" fill="#131722" font-weight="normal" text-anchor="middle" >May</text>
<text x="542.5" y="838" font-size="12" fill="#131722" font-weight="normal" text-anchor="middle" >Jun</text>
<text x="612.5" y="838" font-size="12" fill="#131722" font-weight="normal" text-anchor="middle" >Jul</text>
<text x="689.5" y="838" font-size="12" fill="#131722" font-weight="normal" text-anchor="middle" >Aug</text>
<text x="763.5" y="838" font-size="12" fill="#131722" font-weight="normal" text-anchor="middle" >Sep</text>
<text x="836.5" y="838" font-size="12" fill="#131722" font-weight="normal" text-anchor="middle" >Oct</text>
<text x="917.5" y="838" font-size="12" fill="#131722" font-weight="normal" text-anchor="middle" >Nov</text>
<text x="983.5" y="838" font-size="12" fill="#131722" font-weight="normal" text-anchor="middle" >Dec</text>
<text x="1061.5475999999999" y="838" font-size="12" fill="#131722" font-weight="normal" text-anchor="middle" stroke="#131722" stroke-width="0.45">2026</text>
<text x="1131.5" y="838" font-size="12" fill="#131722" font-weight="normal" text-anchor="middle" >Feb</text>
<text x="1197.5" y="838" font-size="12" fill="#131722" font-weight="normal" text-anchor="middle" >Mar</text>
<text x="1274.5" y="838" font-size="12" fill="#131722" font-weight="normal" text-anchor="middle" >Apr</text>
<g fill="#131722"><path d="M12.3,870 H24.2 V885 H17.8 V876 H12.3 Z"/><circle cx="29.1" cy="872.9" r="3"/><path d="M33.6,870 H41.8 L36.6,885 H28.8 Z"/></g>
<text x="49.2" y="885.2" font-size="20.6" fill="#131722" font-weight="bold" text-anchor="start" textLength="120.5" lengthAdjust="spacingAndGlyphs" >TradingView</text>
</svg></body></html>
